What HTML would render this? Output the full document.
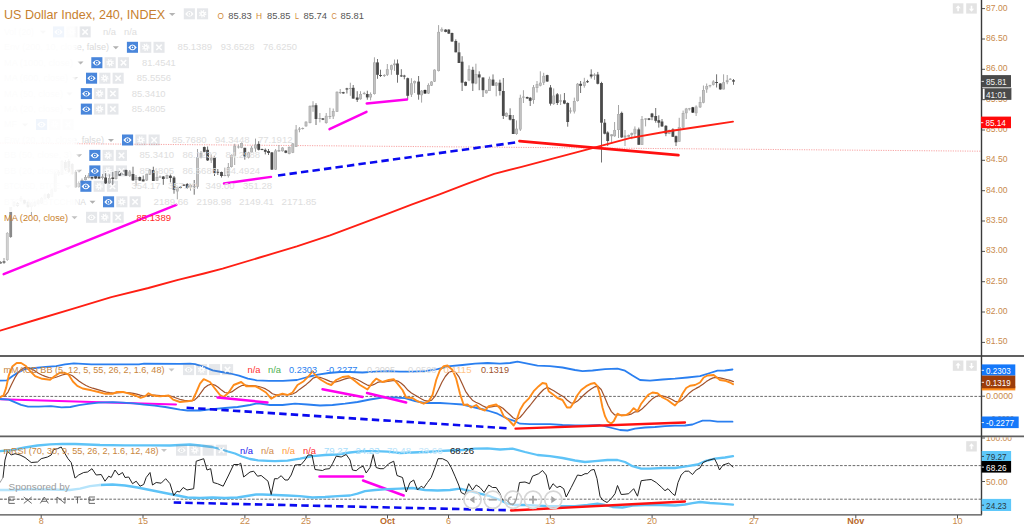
<!DOCTYPE html>
<html><head><meta charset="utf-8"><title>US Dollar Index</title>
<style>
html,body{margin:0;padding:0;background:#fff;}
body{width:1024px;height:530px;overflow:hidden;font-family:"Liberation Sans",sans-serif;}
svg{display:block;}
</style></head><body>
<svg width="1024" height="530" viewBox="0 0 1024 530" font-family='"Liberation Sans", sans-serif'>
<rect width="1024" height="530" fill="#fff"/>
<line x1="981.5" y1="8.6" x2="985.0" y2="8.6" stroke="#555" stroke-width="1" />
<text x="986.0" y="10.6" font-size="9" fill="#c98a4b" text-anchor="start" textLength="21.5" lengthAdjust="spacingAndGlyphs">87.00</text>
<line x1="981.5" y1="39.0" x2="985.0" y2="39.0" stroke="#555" stroke-width="1" />
<text x="986.0" y="41.0" font-size="9" fill="#c98a4b" text-anchor="start" textLength="21.5" lengthAdjust="spacingAndGlyphs">86.50</text>
<line x1="981.5" y1="69.3" x2="985.0" y2="69.3" stroke="#555" stroke-width="1" />
<text x="986.0" y="71.3" font-size="9" fill="#c98a4b" text-anchor="start" textLength="21.5" lengthAdjust="spacingAndGlyphs">86.00</text>
<line x1="981.5" y1="99.7" x2="985.0" y2="99.7" stroke="#555" stroke-width="1" />
<text x="986.0" y="101.7" font-size="9" fill="#c98a4b" text-anchor="start" textLength="21.5" lengthAdjust="spacingAndGlyphs">85.50</text>
<line x1="981.5" y1="130.0" x2="985.0" y2="130.0" stroke="#555" stroke-width="1" />
<text x="986.0" y="132.0" font-size="9" fill="#c98a4b" text-anchor="start" textLength="21.5" lengthAdjust="spacingAndGlyphs">85.00</text>
<line x1="981.5" y1="160.3" x2="985.0" y2="160.3" stroke="#555" stroke-width="1" />
<text x="986.0" y="162.3" font-size="9" fill="#c98a4b" text-anchor="start" textLength="21.5" lengthAdjust="spacingAndGlyphs">84.50</text>
<line x1="981.5" y1="190.7" x2="985.0" y2="190.7" stroke="#555" stroke-width="1" />
<text x="986.0" y="192.7" font-size="9" fill="#c98a4b" text-anchor="start" textLength="21.5" lengthAdjust="spacingAndGlyphs">84.00</text>
<line x1="981.5" y1="221.0" x2="985.0" y2="221.0" stroke="#555" stroke-width="1" />
<text x="986.0" y="223.0" font-size="9" fill="#c98a4b" text-anchor="start" textLength="21.5" lengthAdjust="spacingAndGlyphs">83.50</text>
<line x1="981.5" y1="251.4" x2="985.0" y2="251.4" stroke="#555" stroke-width="1" />
<text x="986.0" y="253.4" font-size="9" fill="#c98a4b" text-anchor="start" textLength="21.5" lengthAdjust="spacingAndGlyphs">83.00</text>
<line x1="981.5" y1="281.7" x2="985.0" y2="281.7" stroke="#555" stroke-width="1" />
<text x="986.0" y="283.7" font-size="9" fill="#c98a4b" text-anchor="start" textLength="21.5" lengthAdjust="spacingAndGlyphs">82.50</text>
<line x1="981.5" y1="312.0" x2="985.0" y2="312.0" stroke="#555" stroke-width="1" />
<text x="986.0" y="314.0" font-size="9" fill="#c98a4b" text-anchor="start" textLength="21.5" lengthAdjust="spacingAndGlyphs">82.00</text>
<line x1="981.5" y1="342.4" x2="985.0" y2="342.4" stroke="#555" stroke-width="1" />
<text x="986.0" y="344.4" font-size="9" fill="#c98a4b" text-anchor="start" textLength="21.5" lengthAdjust="spacingAndGlyphs">81.50</text>
<line x1="0.0" y1="143.1" x2="981.0" y2="151.2" stroke="#f59292" stroke-width="0.85" stroke-dasharray="1.2 1.2"/>
<g opacity="0.70"><rect x="0.13" y="261.00" width="0.95" height="3.00" fill="#6a6a6a"/>
<rect x="-0.80" y="262.00" width="2.8" height="1.50" fill="#4a4a4a"/>
</g>
<g opacity="0.70"><rect x="3.53" y="258.00" width="0.95" height="6.00" fill="#6a6a6a"/>
<rect x="2.60" y="261.00" width="2.8" height="2.00" fill="#4a4a4a"/>
</g>
<g opacity="0.75"><rect x="6.83" y="232.00" width="0.95" height="29.00" fill="#a0a0a0"/>
<rect x="5.90" y="233.00" width="2.8" height="27.00" fill="#a8a8a8"/>
<rect x="6.55" y="233.60" width="1.5" height="25.80" fill="#c2c2c2"/>
</g>
<g><rect x="10.23" y="207.00" width="0.95" height="31.00" fill="#999"/>
<rect x="9.30" y="207.00" width="2.8" height="30.00" fill="#8a8a8a"/>
<rect x="9.95" y="207.60" width="1.5" height="28.80" fill="#8a8a8a"/>
</g>
<g><rect x="13.53" y="201.00" width="0.95" height="6.00" fill="#a0a0a0"/>
<rect x="12.60" y="202.00" width="2.8" height="4.00" fill="#a8a8a8"/>
<rect x="13.25" y="202.60" width="1.5" height="2.80" fill="#c2c2c2"/>
</g>
<g><rect x="17.03" y="202.00" width="0.95" height="5.00" fill="#6a6a6a"/>
<rect x="16.10" y="203.00" width="2.8" height="3.00" fill="#4a4a4a"/>
</g>
<g><rect x="20.53" y="196.00" width="0.95" height="6.00" fill="#a0a0a0"/>
<rect x="19.60" y="198.00" width="2.8" height="3.00" fill="#a8a8a8"/>
<rect x="20.25" y="198.60" width="1.5" height="1.80" fill="#c2c2c2"/>
</g>
<g><rect x="24.03" y="199.00" width="0.95" height="5.00" fill="#6a6a6a"/>
<rect x="23.10" y="200.00" width="2.8" height="3.60" fill="#4a4a4a"/>
</g>
<g><rect x="27.53" y="201.00" width="0.95" height="7.00" fill="#6a6a6a"/>
<rect x="26.60" y="202.00" width="2.8" height="5.00" fill="#4a4a4a"/>
</g>
<g><rect x="30.93" y="202.00" width="0.95" height="13.00" fill="#a0a0a0"/>
<rect x="30.00" y="203.00" width="2.8" height="4.00" fill="#a8a8a8"/>
<rect x="30.65" y="203.60" width="1.5" height="2.80" fill="#c2c2c2"/>
</g>
<g><rect x="34.33" y="201.00" width="0.95" height="6.00" fill="#a0a0a0"/>
<rect x="33.40" y="202.00" width="2.8" height="4.00" fill="#a8a8a8"/>
<rect x="34.05" y="202.60" width="1.5" height="2.80" fill="#c2c2c2"/>
</g>
<g><rect x="37.73" y="199.00" width="0.95" height="6.00" fill="#a0a0a0"/>
<rect x="36.80" y="200.00" width="2.8" height="4.00" fill="#a8a8a8"/>
<rect x="37.45" y="200.60" width="1.5" height="2.80" fill="#c2c2c2"/>
</g>
<g><rect x="41.13" y="197.00" width="0.95" height="7.00" fill="#a0a0a0"/>
<rect x="40.20" y="198.00" width="2.8" height="5.60" fill="#a8a8a8"/>
<rect x="40.85" y="198.60" width="1.5" height="4.40" fill="#c2c2c2"/>
</g>
<g><rect x="44.53" y="193.50" width="0.95" height="5.50" fill="#a0a0a0"/>
<rect x="43.60" y="194.50" width="2.8" height="4.20" fill="#a8a8a8"/>
<rect x="44.25" y="195.10" width="1.5" height="3.00" fill="#c2c2c2"/>
</g>
<g><rect x="47.93" y="193.00" width="0.95" height="6.00" fill="#6a6a6a"/>
<rect x="47.00" y="194.00" width="2.8" height="4.00" fill="#4a4a4a"/>
</g>
<g><rect x="51.33" y="189.00" width="0.95" height="8.00" fill="#a0a0a0"/>
<rect x="50.40" y="189.50" width="2.8" height="7.10" fill="#a8a8a8"/>
<rect x="51.05" y="190.10" width="1.5" height="5.90" fill="#c2c2c2"/>
</g>
<g><rect x="54.73" y="172.00" width="0.95" height="20.00" fill="#a0a0a0"/>
<rect x="53.80" y="173.00" width="2.8" height="18.60" fill="#a8a8a8"/>
<rect x="54.45" y="173.60" width="1.5" height="17.40" fill="#c2c2c2"/>
</g>
<g><rect x="58.13" y="170.00" width="0.95" height="6.00" fill="#a0a0a0"/>
<rect x="57.20" y="171.80" width="2.8" height="2.80" fill="#a8a8a8"/>
<rect x="57.85" y="172.40" width="1.5" height="1.60" fill="#c2c2c2"/>
</g>
<g><rect x="61.53" y="160.00" width="0.95" height="15.00" fill="#a0a0a0"/>
<rect x="60.60" y="161.00" width="2.8" height="13.60" fill="#a8a8a8"/>
<rect x="61.25" y="161.60" width="1.5" height="12.40" fill="#c2c2c2"/>
</g>
<g><rect x="64.93" y="160.00" width="0.95" height="11.00" fill="#6a6a6a"/>
<rect x="64.00" y="162.00" width="2.8" height="7.70" fill="#4a4a4a"/>
</g>
<g><rect x="68.33" y="159.00" width="0.95" height="14.00" fill="#6a6a6a"/>
<rect x="67.40" y="161.00" width="2.8" height="10.80" fill="#4a4a4a"/>
</g>
<g><rect x="71.73" y="163.00" width="0.95" height="12.00" fill="#6a6a6a"/>
<rect x="70.80" y="164.00" width="2.8" height="10.00" fill="#4a4a4a"/>
</g>
<g><rect x="75.13" y="170.00" width="0.95" height="18.00" fill="#6a6a6a"/>
<rect x="74.20" y="171.80" width="2.8" height="15.60" fill="#4a4a4a"/>
</g>
<g><rect x="78.23" y="181.40" width="0.95" height="6.40" fill="#a0a0a0"/>
<rect x="77.30" y="183.00" width="2.8" height="4.00" fill="#a8a8a8"/>
<rect x="77.95" y="183.60" width="1.5" height="2.80" fill="#c2c2c2"/>
</g>
<g><rect x="81.53" y="178.50" width="0.95" height="4.90" fill="#a0a0a0"/>
<rect x="80.60" y="180.00" width="2.8" height="3.00" fill="#a8a8a8"/>
<rect x="81.25" y="180.60" width="1.5" height="1.80" fill="#c2c2c2"/>
</g>
<g><rect x="85.03" y="175.00" width="0.95" height="5.40" fill="#a0a0a0"/>
<rect x="84.10" y="177.00" width="2.8" height="3.00" fill="#a8a8a8"/>
<rect x="84.75" y="177.60" width="1.5" height="1.80" fill="#c2c2c2"/>
</g>
<g><rect x="88.33" y="173.00" width="0.95" height="5.50" fill="#a0a0a0"/>
<rect x="87.40" y="175.50" width="2.8" height="2.50" fill="#a8a8a8"/>
<rect x="88.05" y="176.10" width="1.5" height="1.30" fill="#c2c2c2"/>
</g>
<g><rect x="91.53" y="176.50" width="0.95" height="3.00" fill="#6a6a6a"/>
<rect x="90.60" y="177.00" width="2.8" height="1.50" fill="#4a4a4a"/>
</g>
<g><rect x="95.13" y="175.50" width="0.95" height="3.50" fill="#6a6a6a"/>
<rect x="94.20" y="176.00" width="2.8" height="2.50" fill="#4a4a4a"/>
</g>
<g><rect x="98.53" y="176.00" width="0.95" height="3.00" fill="#6a6a6a"/>
<rect x="97.60" y="176.50" width="2.8" height="2.00" fill="#4a4a4a"/>
</g>
<g><rect x="102.03" y="174.00" width="0.95" height="5.50" fill="#a0a0a0"/>
<rect x="101.10" y="176.50" width="2.8" height="1.50" fill="#a8a8a8"/>
</g>
<g><rect x="105.13" y="171.00" width="0.95" height="13.00" fill="#6a6a6a"/>
<rect x="104.20" y="177.50" width="2.8" height="5.90" fill="#4a4a4a"/>
</g>
<g><rect x="108.93" y="172.00" width="0.95" height="12.00" fill="#a0a0a0"/>
<rect x="108.00" y="178.00" width="2.8" height="5.40" fill="#a8a8a8"/>
<rect x="108.65" y="178.60" width="1.5" height="4.20" fill="#c2c2c2"/>
</g>
<g><rect x="112.33" y="172.00" width="0.95" height="14.80" fill="#6a6a6a"/>
<rect x="111.40" y="177.50" width="2.8" height="1.50" fill="#4a4a4a"/>
</g>
<g><rect x="115.53" y="171.00" width="0.95" height="8.50" fill="#a0a0a0"/>
<rect x="114.60" y="171.00" width="2.8" height="8.00" fill="#a8a8a8"/>
<rect x="115.25" y="171.60" width="1.5" height="6.80" fill="#c2c2c2"/>
</g>
<g><rect x="119.23" y="171.00" width="0.95" height="5.00" fill="#6a6a6a"/>
<rect x="118.30" y="171.60" width="2.8" height="4.10" fill="#4a4a4a"/>
</g>
<g><rect x="122.53" y="169.00" width="0.95" height="6.00" fill="#a0a0a0"/>
<rect x="121.60" y="169.60" width="2.8" height="4.90" fill="#a8a8a8"/>
<rect x="122.25" y="170.20" width="1.5" height="3.70" fill="#c2c2c2"/>
</g>
<g><rect x="125.53" y="169.50" width="0.95" height="6.50" fill="#6a6a6a"/>
<rect x="124.60" y="170.00" width="2.8" height="5.70" fill="#4a4a4a"/>
</g>
<g><rect x="129.33" y="170.00" width="0.95" height="7.00" fill="#a0a0a0"/>
<rect x="128.40" y="171.60" width="2.8" height="4.40" fill="#a8a8a8"/>
<rect x="129.05" y="172.20" width="1.5" height="3.20" fill="#c2c2c2"/>
</g>
<g><rect x="132.53" y="166.70" width="0.95" height="14.30" fill="#6a6a6a"/>
<rect x="131.60" y="174.00" width="2.8" height="6.40" fill="#4a4a4a"/>
</g>
<g><rect x="135.53" y="175.00" width="0.95" height="10.80" fill="#a0a0a0"/>
<rect x="134.60" y="177.00" width="2.8" height="3.00" fill="#a8a8a8"/>
<rect x="135.25" y="177.60" width="1.5" height="1.80" fill="#c2c2c2"/>
</g>
<g><rect x="139.33" y="176.50" width="0.95" height="4.50" fill="#6a6a6a"/>
<rect x="138.40" y="177.00" width="2.8" height="3.60" fill="#4a4a4a"/>
</g>
<g><rect x="142.73" y="175.50" width="0.95" height="5.90" fill="#6a6a6a"/>
<rect x="141.80" y="179.40" width="2.8" height="2.00" fill="#4a4a4a"/>
</g>
<g><rect x="146.23" y="173.50" width="0.95" height="7.50" fill="#a0a0a0"/>
<rect x="145.30" y="174.00" width="2.8" height="6.40" fill="#a8a8a8"/>
<rect x="145.95" y="174.60" width="1.5" height="5.20" fill="#c2c2c2"/>
</g>
<g><rect x="149.33" y="169.00" width="0.95" height="6.00" fill="#a0a0a0"/>
<rect x="148.40" y="169.60" width="2.8" height="4.90" fill="#a8a8a8"/>
<rect x="149.05" y="170.20" width="1.5" height="3.70" fill="#c2c2c2"/>
</g>
<g><rect x="152.83" y="166.70" width="0.95" height="14.30" fill="#6a6a6a"/>
<rect x="151.90" y="170.00" width="2.8" height="11.00" fill="#4a4a4a"/>
</g>
<g><rect x="156.53" y="171.00" width="0.95" height="10.00" fill="#a0a0a0"/>
<rect x="155.60" y="177.00" width="2.8" height="3.60" fill="#a8a8a8"/>
<rect x="156.25" y="177.60" width="1.5" height="2.40" fill="#c2c2c2"/>
</g>
<g><rect x="159.53" y="175.50" width="0.95" height="2.50" fill="#a0a0a0"/>
<rect x="158.60" y="176.50" width="2.8" height="1.00" fill="#a8a8a8"/>
</g>
<g><rect x="162.83" y="176.00" width="0.95" height="8.80" fill="#6a6a6a"/>
<rect x="161.90" y="176.50" width="2.8" height="2.50" fill="#4a4a4a"/>
</g>
<g><rect x="166.53" y="174.50" width="0.95" height="4.50" fill="#a0a0a0"/>
<rect x="165.60" y="175.00" width="2.8" height="3.50" fill="#a8a8a8"/>
<rect x="166.25" y="175.60" width="1.5" height="2.30" fill="#c2c2c2"/>
</g>
<g><rect x="169.93" y="174.50" width="0.95" height="7.90" fill="#6a6a6a"/>
<rect x="169.00" y="175.70" width="2.8" height="2.30" fill="#4a4a4a"/>
</g>
<g><rect x="173.53" y="176.00" width="0.95" height="17.70" fill="#6a6a6a"/>
<rect x="172.60" y="177.50" width="2.8" height="12.20" fill="#4a4a4a"/>
</g>
<g><rect x="176.83" y="186.80" width="0.95" height="12.50" fill="#a0a0a0"/>
<rect x="175.90" y="187.40" width="2.8" height="4.00" fill="#a8a8a8"/>
<rect x="176.55" y="188.00" width="1.5" height="2.80" fill="#c2c2c2"/>
</g>
<g><rect x="180.13" y="186.40" width="0.95" height="2.00" fill="#6a6a6a"/>
<rect x="179.20" y="186.80" width="2.8" height="1.20" fill="#4a4a4a"/>
</g>
<g><rect x="183.43" y="184.00" width="0.95" height="2.00" fill="#6a6a6a"/>
<rect x="182.50" y="184.70" width="2.8" height="1.00" fill="#4a4a4a"/>
</g>
<g><rect x="186.73" y="183.00" width="0.95" height="5.70" fill="#6a6a6a"/>
<rect x="185.80" y="184.00" width="2.8" height="4.00" fill="#4a4a4a"/>
</g>
<g><rect x="190.03" y="184.00" width="0.95" height="6.70" fill="#a0a0a0"/>
<rect x="189.10" y="184.80" width="2.8" height="2.60" fill="#a8a8a8"/>
<rect x="189.75" y="185.40" width="1.5" height="1.40" fill="#c2c2c2"/>
</g>
<g><rect x="193.73" y="180.00" width="0.95" height="14.70" fill="#6a6a6a"/>
<rect x="192.80" y="186.00" width="2.8" height="1.00" fill="#4a4a4a"/>
</g>
<g><rect x="197.03" y="149.00" width="0.95" height="39.70" fill="#a0a0a0"/>
<rect x="196.10" y="157.00" width="2.8" height="29.80" fill="#a8a8a8"/>
<rect x="196.75" y="157.60" width="1.5" height="28.60" fill="#c2c2c2"/>
</g>
<g><rect x="200.53" y="151.00" width="0.95" height="7.40" fill="#a0a0a0"/>
<rect x="199.60" y="153.00" width="2.8" height="4.70" fill="#a8a8a8"/>
<rect x="200.25" y="153.60" width="1.5" height="3.50" fill="#c2c2c2"/>
</g>
<g><rect x="203.83" y="146.50" width="0.95" height="5.70" fill="#6a6a6a"/>
<rect x="202.90" y="147.00" width="2.8" height="4.80" fill="#4a4a4a"/>
</g>
<g><rect x="207.13" y="146.50" width="0.95" height="14.50" fill="#6a6a6a"/>
<rect x="206.20" y="149.80" width="2.8" height="10.60" fill="#4a4a4a"/>
</g>
<g><rect x="210.73" y="154.40" width="0.95" height="8.60" fill="#a0a0a0"/>
<rect x="209.80" y="157.70" width="2.8" height="2.70" fill="#a8a8a8"/>
<rect x="210.45" y="158.30" width="1.5" height="1.50" fill="#c2c2c2"/>
</g>
<g><rect x="214.03" y="156.40" width="0.95" height="19.60" fill="#6a6a6a"/>
<rect x="213.10" y="157.00" width="2.8" height="16.00" fill="#4a4a4a"/>
</g>
<g><rect x="217.33" y="169.00" width="0.95" height="6.00" fill="#6a6a6a"/>
<rect x="216.40" y="171.80" width="2.8" height="1.00" fill="#4a4a4a"/>
</g>
<g><rect x="221.03" y="171.60" width="0.95" height="5.90" fill="#6a6a6a"/>
<rect x="220.10" y="172.00" width="2.8" height="4.00" fill="#4a4a4a"/>
</g>
<g><rect x="224.33" y="167.60" width="0.95" height="8.60" fill="#a0a0a0"/>
<rect x="223.40" y="175.00" width="2.8" height="1.00" fill="#a8a8a8"/>
</g>
<g><rect x="227.83" y="163.00" width="0.95" height="14.50" fill="#a0a0a0"/>
<rect x="226.90" y="167.00" width="2.8" height="9.00" fill="#a8a8a8"/>
<rect x="227.55" y="167.60" width="1.5" height="7.80" fill="#c2c2c2"/>
</g>
<g><rect x="230.93" y="154.40" width="0.95" height="13.20" fill="#a0a0a0"/>
<rect x="230.00" y="155.00" width="2.8" height="12.00" fill="#a8a8a8"/>
<rect x="230.65" y="155.60" width="1.5" height="10.80" fill="#c2c2c2"/>
</g>
<g><rect x="234.23" y="143.80" width="0.95" height="21.20" fill="#a0a0a0"/>
<rect x="233.30" y="145.80" width="2.8" height="9.90" fill="#a8a8a8"/>
<rect x="233.95" y="146.40" width="1.5" height="8.70" fill="#c2c2c2"/>
</g>
<g><rect x="237.93" y="144.50" width="0.95" height="4.00" fill="#a0a0a0"/>
<rect x="237.00" y="146.50" width="2.8" height="1.00" fill="#a8a8a8"/>
</g>
<g><rect x="241.03" y="142.50" width="0.95" height="5.70" fill="#a0a0a0"/>
<rect x="240.10" y="143.00" width="2.8" height="4.80" fill="#a8a8a8"/>
<rect x="240.75" y="143.60" width="1.5" height="3.60" fill="#c2c2c2"/>
</g>
<g><rect x="244.33" y="147.80" width="0.95" height="11.90" fill="#6a6a6a"/>
<rect x="243.40" y="147.80" width="2.8" height="8.60" fill="#4a4a4a"/>
</g>
<g><rect x="248.03" y="151.80" width="0.95" height="6.60" fill="#a0a0a0"/>
<rect x="247.10" y="152.40" width="2.8" height="5.30" fill="#a8a8a8"/>
<rect x="247.75" y="153.00" width="1.5" height="4.10" fill="#c2c2c2"/>
</g>
<g><rect x="251.13" y="145.80" width="0.95" height="7.20" fill="#a0a0a0"/>
<rect x="250.20" y="147.80" width="2.8" height="4.60" fill="#a8a8a8"/>
<rect x="250.85" y="148.40" width="1.5" height="3.40" fill="#c2c2c2"/>
</g>
<g><rect x="255.03" y="138.60" width="0.95" height="13.20" fill="#a0a0a0"/>
<rect x="254.10" y="144.50" width="2.8" height="4.00" fill="#a8a8a8"/>
<rect x="254.75" y="145.10" width="1.5" height="2.80" fill="#c2c2c2"/>
</g>
<g><rect x="258.23" y="141.20" width="0.95" height="9.30" fill="#6a6a6a"/>
<rect x="257.30" y="143.90" width="2.8" height="5.90" fill="#4a4a4a"/>
</g>
<g><rect x="261.53" y="148.60" width="0.95" height="1.60" fill="#6a6a6a"/>
<rect x="260.60" y="149.00" width="2.8" height="1.00" fill="#4a4a4a"/>
</g>
<g><rect x="264.83" y="148.50" width="0.95" height="5.90" fill="#6a6a6a"/>
<rect x="263.90" y="149.80" width="2.8" height="2.00" fill="#4a4a4a"/>
</g>
<g><rect x="268.03" y="149.00" width="0.95" height="6.00" fill="#6a6a6a"/>
<rect x="267.10" y="151.00" width="2.8" height="2.00" fill="#4a4a4a"/>
</g>
<g><rect x="271.43" y="152.00" width="0.95" height="18.00" fill="#6a6a6a"/>
<rect x="270.50" y="152.40" width="2.8" height="17.20" fill="#4a4a4a"/>
</g>
<g><rect x="275.13" y="149.00" width="0.95" height="20.90" fill="#a0a0a0"/>
<rect x="274.20" y="150.50" width="2.8" height="19.10" fill="#a8a8a8"/>
<rect x="274.85" y="151.10" width="1.5" height="17.90" fill="#c2c2c2"/>
</g>
<g><rect x="278.43" y="145.00" width="0.95" height="6.80" fill="#a0a0a0"/>
<rect x="277.50" y="150.00" width="2.8" height="1.50" fill="#a8a8a8"/>
</g>
<g><rect x="282.03" y="147.20" width="0.95" height="4.40" fill="#a0a0a0"/>
<rect x="281.10" y="147.60" width="2.8" height="3.60" fill="#a8a8a8"/>
<rect x="281.75" y="148.20" width="1.5" height="2.40" fill="#c2c2c2"/>
</g>
<g><rect x="285.33" y="150.20" width="0.95" height="3.00" fill="#6a6a6a"/>
<rect x="284.40" y="150.60" width="2.8" height="2.20" fill="#4a4a4a"/>
</g>
<g><rect x="288.73" y="146.50" width="0.95" height="7.80" fill="#a0a0a0"/>
<rect x="287.80" y="146.90" width="2.8" height="7.00" fill="#a8a8a8"/>
<rect x="288.45" y="147.50" width="1.5" height="5.80" fill="#c2c2c2"/>
</g>
<g><rect x="292.33" y="143.10" width="0.95" height="10.00" fill="#a0a0a0"/>
<rect x="291.40" y="143.50" width="2.8" height="9.20" fill="#a8a8a8"/>
<rect x="292.05" y="144.10" width="1.5" height="8.00" fill="#c2c2c2"/>
</g>
<g><rect x="295.63" y="125.00" width="0.95" height="21.80" fill="#a0a0a0"/>
<rect x="294.70" y="129.60" width="2.8" height="17.20" fill="#a8a8a8"/>
<rect x="295.35" y="130.20" width="1.5" height="16.00" fill="#c2c2c2"/>
</g>
<g><rect x="298.93" y="127.00" width="0.95" height="5.30" fill="#a0a0a0"/>
<rect x="298.00" y="128.60" width="2.8" height="1.00" fill="#a8a8a8"/>
</g>
<g><rect x="302.23" y="127.50" width="0.95" height="2.00" fill="#a0a0a0"/>
<rect x="301.30" y="128.00" width="2.8" height="1.00" fill="#a8a8a8"/>
</g>
<g><rect x="305.53" y="121.30" width="0.95" height="5.40" fill="#a0a0a0"/>
<rect x="304.60" y="121.70" width="2.8" height="4.60" fill="#a8a8a8"/>
<rect x="305.25" y="122.30" width="1.5" height="3.40" fill="#c2c2c2"/>
</g>
<g><rect x="309.53" y="105.50" width="0.95" height="17.90" fill="#a0a0a0"/>
<rect x="308.60" y="105.90" width="2.8" height="17.10" fill="#a8a8a8"/>
<rect x="309.25" y="106.50" width="1.5" height="15.90" fill="#c2c2c2"/>
</g>
<g><rect x="312.53" y="101.20" width="0.95" height="10.60" fill="#a0a0a0"/>
<rect x="311.60" y="105.20" width="2.8" height="2.00" fill="#a8a8a8"/>
</g>
<g><rect x="315.53" y="103.20" width="0.95" height="21.80" fill="#6a6a6a"/>
<rect x="314.60" y="105.20" width="2.8" height="13.80" fill="#4a4a4a"/>
</g>
<g><rect x="319.43" y="113.00" width="0.95" height="9.40" fill="#a0a0a0"/>
<rect x="318.50" y="118.00" width="2.8" height="1.00" fill="#a8a8a8"/>
</g>
<g><rect x="322.43" y="118.00" width="0.95" height="2.10" fill="#6a6a6a"/>
<rect x="321.50" y="118.40" width="2.8" height="1.30" fill="#4a4a4a"/>
</g>
<g><rect x="325.73" y="113.00" width="0.95" height="10.70" fill="#a0a0a0"/>
<rect x="324.80" y="115.80" width="2.8" height="7.20" fill="#a8a8a8"/>
<rect x="325.45" y="116.40" width="1.5" height="6.00" fill="#c2c2c2"/>
</g>
<g><rect x="329.43" y="107.80" width="0.95" height="11.20" fill="#a0a0a0"/>
<rect x="328.50" y="116.00" width="2.8" height="1.00" fill="#a8a8a8"/>
</g>
<g><rect x="332.73" y="108.50" width="0.95" height="10.50" fill="#a0a0a0"/>
<rect x="331.80" y="111.00" width="2.8" height="5.40" fill="#a8a8a8"/>
<rect x="332.45" y="111.60" width="1.5" height="4.20" fill="#c2c2c2"/>
</g>
<g><rect x="336.53" y="91.40" width="0.95" height="20.60" fill="#a0a0a0"/>
<rect x="335.60" y="91.80" width="2.8" height="19.90" fill="#a8a8a8"/>
<rect x="336.25" y="92.40" width="1.5" height="18.70" fill="#c2c2c2"/>
</g>
<g><rect x="339.73" y="89.00" width="0.95" height="5.00" fill="#a0a0a0"/>
<rect x="338.80" y="92.00" width="2.8" height="1.00" fill="#a8a8a8"/>
</g>
<g><rect x="342.83" y="91.80" width="0.95" height="2.00" fill="#6a6a6a"/>
<rect x="341.90" y="92.20" width="2.8" height="1.20" fill="#4a4a4a"/>
</g>
<g><rect x="346.43" y="87.80" width="0.95" height="5.70" fill="#6a6a6a"/>
<rect x="345.50" y="88.40" width="2.8" height="1.10" fill="#4a4a4a"/>
</g>
<g><rect x="349.83" y="82.70" width="0.95" height="13.10" fill="#a0a0a0"/>
<rect x="348.90" y="88.00" width="2.8" height="1.00" fill="#a8a8a8"/>
</g>
<g><rect x="352.73" y="85.00" width="0.95" height="13.60" fill="#6a6a6a"/>
<rect x="351.80" y="87.80" width="2.8" height="10.80" fill="#4a4a4a"/>
</g>
<g><rect x="356.73" y="91.20" width="0.95" height="10.80" fill="#6a6a6a"/>
<rect x="355.80" y="97.50" width="2.8" height="2.30" fill="#4a4a4a"/>
</g>
<g><rect x="360.03" y="91.20" width="0.95" height="8.50" fill="#a0a0a0"/>
<rect x="359.10" y="94.00" width="2.8" height="5.20" fill="#a8a8a8"/>
<rect x="359.75" y="94.60" width="1.5" height="4.00" fill="#c2c2c2"/>
</g>
<g><rect x="363.73" y="91.80" width="0.95" height="2.80" fill="#a0a0a0"/>
<rect x="362.80" y="93.00" width="2.8" height="1.00" fill="#a8a8a8"/>
</g>
<g><rect x="366.83" y="90.70" width="0.95" height="9.00" fill="#6a6a6a"/>
<rect x="365.90" y="94.00" width="2.8" height="3.40" fill="#4a4a4a"/>
</g>
<g><rect x="370.13" y="92.40" width="0.95" height="7.90" fill="#a0a0a0"/>
<rect x="369.20" y="94.00" width="2.8" height="3.40" fill="#a8a8a8"/>
<rect x="369.85" y="94.60" width="1.5" height="2.20" fill="#c2c2c2"/>
</g>
<g><rect x="373.93" y="57.30" width="0.95" height="37.30" fill="#a0a0a0"/>
<rect x="373.00" y="62.40" width="2.8" height="31.60" fill="#a8a8a8"/>
<rect x="373.65" y="63.00" width="1.5" height="30.40" fill="#c2c2c2"/>
</g>
<g><rect x="377.03" y="59.00" width="0.95" height="19.80" fill="#6a6a6a"/>
<rect x="376.10" y="62.40" width="2.8" height="12.40" fill="#4a4a4a"/>
</g>
<g><rect x="380.03" y="69.70" width="0.95" height="7.30" fill="#6a6a6a"/>
<rect x="379.10" y="75.00" width="2.8" height="1.00" fill="#4a4a4a"/>
</g>
<g><rect x="383.83" y="74.20" width="0.95" height="2.80" fill="#a0a0a0"/>
<rect x="382.90" y="75.00" width="2.8" height="1.00" fill="#a8a8a8"/>
</g>
<g><rect x="386.83" y="64.00" width="0.95" height="12.00" fill="#a0a0a0"/>
<rect x="385.90" y="69.20" width="2.8" height="5.60" fill="#a8a8a8"/>
<rect x="386.55" y="69.80" width="1.5" height="4.40" fill="#c2c2c2"/>
</g>
<g><rect x="390.93" y="64.60" width="0.95" height="10.20" fill="#a0a0a0"/>
<rect x="390.00" y="65.20" width="2.8" height="4.50" fill="#a8a8a8"/>
<rect x="390.65" y="65.80" width="1.5" height="3.30" fill="#c2c2c2"/>
</g>
<g><rect x="394.03" y="59.50" width="0.95" height="11.40" fill="#a0a0a0"/>
<rect x="393.10" y="63.50" width="2.8" height="1.70" fill="#a8a8a8"/>
</g>
<g><rect x="397.03" y="59.50" width="0.95" height="23.20" fill="#6a6a6a"/>
<rect x="396.10" y="63.50" width="2.8" height="11.30" fill="#4a4a4a"/>
</g>
<g><rect x="400.83" y="69.20" width="0.95" height="7.80" fill="#6a6a6a"/>
<rect x="399.90" y="75.40" width="2.8" height="1.00" fill="#4a4a4a"/>
</g>
<g><rect x="403.83" y="74.80" width="0.95" height="4.50" fill="#6a6a6a"/>
<rect x="402.90" y="75.60" width="2.8" height="1.00" fill="#4a4a4a"/>
</g>
<g><rect x="407.23" y="77.60" width="0.95" height="22.10" fill="#6a6a6a"/>
<rect x="406.30" y="78.20" width="2.8" height="17.60" fill="#4a4a4a"/>
</g>
<g><rect x="410.93" y="78.20" width="0.95" height="18.80" fill="#a0a0a0"/>
<rect x="410.00" y="83.30" width="2.8" height="11.30" fill="#a8a8a8"/>
<rect x="410.65" y="83.90" width="1.5" height="10.10" fill="#c2c2c2"/>
</g>
<g><rect x="414.13" y="80.50" width="0.95" height="12.50" fill="#a0a0a0"/>
<rect x="413.20" y="81.00" width="2.8" height="2.30" fill="#a8a8a8"/>
<rect x="413.85" y="81.60" width="1.5" height="1.10" fill="#c2c2c2"/>
</g>
<g><rect x="418.13" y="76.00" width="0.95" height="23.70" fill="#6a6a6a"/>
<rect x="417.20" y="81.60" width="2.8" height="13.00" fill="#4a4a4a"/>
</g>
<g><rect x="421.13" y="90.00" width="0.95" height="12.60" fill="#a0a0a0"/>
<rect x="420.20" y="90.70" width="2.8" height="4.50" fill="#a8a8a8"/>
<rect x="420.85" y="91.30" width="1.5" height="3.30" fill="#c2c2c2"/>
</g>
<g><rect x="424.53" y="89.60" width="0.95" height="4.30" fill="#444"/>
<rect x="423.60" y="90.00" width="2.8" height="3.50" fill="#2c2c2c"/>
</g>
<g><rect x="427.93" y="83.30" width="0.95" height="10.70" fill="#a0a0a0"/>
<rect x="427.00" y="85.00" width="2.8" height="8.50" fill="#a8a8a8"/>
<rect x="427.65" y="85.60" width="1.5" height="7.30" fill="#c2c2c2"/>
</g>
<g><rect x="431.03" y="81.20" width="0.95" height="4.80" fill="#a0a0a0"/>
<rect x="430.10" y="81.60" width="2.8" height="4.00" fill="#a8a8a8"/>
<rect x="430.75" y="82.20" width="1.5" height="2.80" fill="#c2c2c2"/>
</g>
<g><rect x="434.03" y="69.30" width="0.95" height="12.70" fill="#a0a0a0"/>
<rect x="433.10" y="69.70" width="2.8" height="11.90" fill="#a8a8a8"/>
<rect x="433.75" y="70.30" width="1.5" height="10.70" fill="#c2c2c2"/>
</g>
<g><rect x="438.13" y="25.10" width="0.95" height="46.40" fill="#a0a0a0"/>
<rect x="437.20" y="31.90" width="2.8" height="39.10" fill="#a8a8a8"/>
<rect x="437.85" y="32.50" width="1.5" height="37.90" fill="#c2c2c2"/>
</g>
<g><rect x="441.33" y="27.40" width="0.95" height="4.50" fill="#a0a0a0"/>
<rect x="440.40" y="29.00" width="2.8" height="2.30" fill="#a8a8a8"/>
<rect x="441.05" y="29.60" width="1.5" height="1.10" fill="#c2c2c2"/>
</g>
<g><rect x="445.13" y="29.20" width="0.95" height="3.10" fill="#6a6a6a"/>
<rect x="444.20" y="29.60" width="2.8" height="2.30" fill="#4a4a4a"/>
</g>
<g><rect x="448.33" y="29.20" width="0.95" height="4.80" fill="#6a6a6a"/>
<rect x="447.40" y="29.60" width="2.8" height="4.00" fill="#4a4a4a"/>
</g>
<g><rect x="451.53" y="32.60" width="0.95" height="9.30" fill="#6a6a6a"/>
<rect x="450.60" y="33.00" width="2.8" height="8.50" fill="#4a4a4a"/>
</g>
<g><rect x="455.33" y="39.30" width="0.95" height="13.00" fill="#6a6a6a"/>
<rect x="454.40" y="41.00" width="2.8" height="11.30" fill="#4a4a4a"/>
</g>
<g><rect x="458.53" y="42.70" width="0.95" height="20.30" fill="#6a6a6a"/>
<rect x="457.60" y="52.30" width="2.8" height="10.70" fill="#4a4a4a"/>
</g>
<g><rect x="461.63" y="56.20" width="0.95" height="34.80" fill="#6a6a6a"/>
<rect x="460.70" y="61.70" width="2.8" height="21.00" fill="#4a4a4a"/>
</g>
<g><rect x="465.13" y="81.50" width="0.95" height="4.60" fill="#6a6a6a"/>
<rect x="464.20" y="81.90" width="2.8" height="3.80" fill="#4a4a4a"/>
</g>
<g><rect x="468.53" y="65.30" width="0.95" height="15.90" fill="#a0a0a0"/>
<rect x="467.60" y="69.20" width="2.8" height="11.20" fill="#a8a8a8"/>
<rect x="468.25" y="69.80" width="1.5" height="10.00" fill="#c2c2c2"/>
</g>
<g><rect x="472.33" y="66.80" width="0.95" height="24.20" fill="#6a6a6a"/>
<rect x="471.40" y="69.80" width="2.8" height="13.60" fill="#4a4a4a"/>
</g>
<g><rect x="475.43" y="63.70" width="0.95" height="20.50" fill="#a0a0a0"/>
<rect x="474.50" y="74.00" width="2.8" height="9.40" fill="#a8a8a8"/>
<rect x="475.15" y="74.60" width="1.5" height="8.20" fill="#c2c2c2"/>
</g>
<g><rect x="478.73" y="71.30" width="0.95" height="18.90" fill="#6a6a6a"/>
<rect x="477.80" y="74.40" width="2.8" height="3.10" fill="#4a4a4a"/>
</g>
<g><rect x="482.53" y="77.40" width="0.95" height="19.60" fill="#6a6a6a"/>
<rect x="481.60" y="77.50" width="2.8" height="12.70" fill="#4a4a4a"/>
</g>
<g><rect x="485.83" y="89.80" width="0.95" height="3.80" fill="#a0a0a0"/>
<rect x="484.90" y="90.20" width="2.8" height="3.00" fill="#a8a8a8"/>
<rect x="485.55" y="90.80" width="1.5" height="1.80" fill="#c2c2c2"/>
</g>
<g><rect x="488.93" y="76.60" width="0.95" height="14.40" fill="#a0a0a0"/>
<rect x="488.00" y="78.90" width="2.8" height="12.10" fill="#a8a8a8"/>
<rect x="488.65" y="79.50" width="1.5" height="10.90" fill="#c2c2c2"/>
</g>
<g><rect x="492.53" y="74.40" width="0.95" height="11.30" fill="#6a6a6a"/>
<rect x="491.60" y="79.60" width="2.8" height="6.10" fill="#4a4a4a"/>
</g>
<g><rect x="495.73" y="82.00" width="0.95" height="14.30" fill="#a0a0a0"/>
<rect x="494.80" y="82.70" width="2.8" height="3.00" fill="#a8a8a8"/>
<rect x="495.45" y="83.30" width="1.5" height="1.80" fill="#c2c2c2"/>
</g>
<g><rect x="499.43" y="79.60" width="0.95" height="15.90" fill="#6a6a6a"/>
<rect x="498.50" y="82.70" width="2.8" height="8.30" fill="#4a4a4a"/>
</g>
<g><rect x="502.83" y="78.00" width="0.95" height="41.00" fill="#6a6a6a"/>
<rect x="501.90" y="91.00" width="2.8" height="24.90" fill="#4a4a4a"/>
</g>
<g><rect x="505.93" y="112.50" width="0.95" height="4.50" fill="#a0a0a0"/>
<rect x="505.00" y="112.90" width="2.8" height="3.70" fill="#a8a8a8"/>
<rect x="505.65" y="113.50" width="1.5" height="2.50" fill="#c2c2c2"/>
</g>
<g><rect x="509.63" y="108.30" width="0.95" height="12.10" fill="#6a6a6a"/>
<rect x="508.70" y="115.00" width="2.8" height="4.70" fill="#4a4a4a"/>
</g>
<g><rect x="512.73" y="115.00" width="0.95" height="19.00" fill="#6a6a6a"/>
<rect x="511.80" y="119.00" width="2.8" height="15.00" fill="#4a4a4a"/>
</g>
<g><rect x="516.03" y="120.40" width="0.95" height="14.40" fill="#a0a0a0"/>
<rect x="515.10" y="128.70" width="2.8" height="5.30" fill="#a8a8a8"/>
<rect x="515.75" y="129.30" width="1.5" height="4.10" fill="#c2c2c2"/>
</g>
<g><rect x="519.83" y="94.70" width="0.95" height="36.30" fill="#a0a0a0"/>
<rect x="518.90" y="97.80" width="2.8" height="31.70" fill="#a8a8a8"/>
<rect x="519.55" y="98.40" width="1.5" height="30.50" fill="#c2c2c2"/>
</g>
<g><rect x="522.93" y="90.20" width="0.95" height="12.80" fill="#a0a0a0"/>
<rect x="522.00" y="96.60" width="2.8" height="1.00" fill="#a8a8a8"/>
</g>
<g><rect x="526.73" y="96.60" width="0.95" height="2.30" fill="#6a6a6a"/>
<rect x="525.80" y="97.00" width="2.8" height="1.50" fill="#4a4a4a"/>
</g>
<g><rect x="529.73" y="97.00" width="0.95" height="9.00" fill="#6a6a6a"/>
<rect x="528.80" y="97.80" width="2.8" height="3.00" fill="#4a4a4a"/>
</g>
<g><rect x="533.03" y="85.00" width="0.95" height="18.80" fill="#a0a0a0"/>
<rect x="532.10" y="87.20" width="2.8" height="12.80" fill="#a8a8a8"/>
<rect x="532.75" y="87.80" width="1.5" height="11.60" fill="#c2c2c2"/>
</g>
<g><rect x="536.53" y="81.00" width="0.95" height="11.50" fill="#a0a0a0"/>
<rect x="535.60" y="84.20" width="2.8" height="3.80" fill="#a8a8a8"/>
<rect x="536.25" y="84.80" width="1.5" height="2.60" fill="#c2c2c2"/>
</g>
<g><rect x="539.83" y="71.30" width="0.95" height="15.10" fill="#a0a0a0"/>
<rect x="538.90" y="82.70" width="2.8" height="3.00" fill="#a8a8a8"/>
<rect x="539.55" y="83.30" width="1.5" height="1.80" fill="#c2c2c2"/>
</g>
<g><rect x="543.23" y="72.80" width="0.95" height="12.20" fill="#a0a0a0"/>
<rect x="542.30" y="75.90" width="2.8" height="6.80" fill="#a8a8a8"/>
<rect x="542.95" y="76.50" width="1.5" height="5.60" fill="#c2c2c2"/>
</g>
<g><rect x="546.73" y="74.70" width="0.95" height="7.20" fill="#6a6a6a"/>
<rect x="545.80" y="75.10" width="2.8" height="6.40" fill="#4a4a4a"/>
</g>
<g><rect x="550.03" y="85.00" width="0.95" height="20.60" fill="#6a6a6a"/>
<rect x="549.10" y="87.50" width="2.8" height="16.20" fill="#4a4a4a"/>
</g>
<g><rect x="553.23" y="88.40" width="0.95" height="16.50" fill="#a0a0a0"/>
<rect x="552.30" y="95.60" width="2.8" height="8.40" fill="#a8a8a8"/>
<rect x="552.95" y="96.20" width="1.5" height="7.20" fill="#c2c2c2"/>
</g>
<g><rect x="556.83" y="93.00" width="0.95" height="12.00" fill="#6a6a6a"/>
<rect x="555.90" y="94.30" width="2.8" height="8.70" fill="#4a4a4a"/>
</g>
<g><rect x="560.13" y="94.30" width="0.95" height="10.70" fill="#a0a0a0"/>
<rect x="559.20" y="100.30" width="2.8" height="1.30" fill="#a8a8a8"/>
</g>
<g><rect x="563.93" y="93.00" width="0.95" height="11.20" fill="#6a6a6a"/>
<rect x="563.00" y="100.30" width="2.8" height="3.30" fill="#4a4a4a"/>
</g>
<g><rect x="567.23" y="102.30" width="0.95" height="24.40" fill="#6a6a6a"/>
<rect x="566.30" y="103.00" width="2.8" height="19.00" fill="#4a4a4a"/>
</g>
<g><rect x="570.03" y="107.50" width="0.95" height="6.00" fill="#a0a0a0"/>
<rect x="569.10" y="110.50" width="2.8" height="1.00" fill="#a8a8a8"/>
</g>
<g><rect x="573.83" y="97.60" width="0.95" height="15.90" fill="#a0a0a0"/>
<rect x="572.90" y="101.00" width="2.8" height="10.50" fill="#a8a8a8"/>
<rect x="573.55" y="101.60" width="1.5" height="9.30" fill="#c2c2c2"/>
</g>
<g><rect x="577.13" y="83.00" width="0.95" height="18.60" fill="#a0a0a0"/>
<rect x="576.20" y="83.80" width="2.8" height="17.20" fill="#a8a8a8"/>
<rect x="576.85" y="84.40" width="1.5" height="16.00" fill="#c2c2c2"/>
</g>
<g><rect x="580.13" y="81.00" width="0.95" height="12.00" fill="#6a6a6a"/>
<rect x="579.20" y="83.80" width="2.8" height="2.00" fill="#4a4a4a"/>
</g>
<g><rect x="583.83" y="77.80" width="0.95" height="9.90" fill="#a0a0a0"/>
<rect x="582.90" y="81.80" width="2.8" height="4.00" fill="#a8a8a8"/>
<rect x="583.55" y="82.40" width="1.5" height="2.80" fill="#c2c2c2"/>
</g>
<g><rect x="587.03" y="79.80" width="0.95" height="3.20" fill="#6a6a6a"/>
<rect x="586.10" y="81.20" width="2.8" height="1.00" fill="#4a4a4a"/>
</g>
<g><rect x="590.73" y="69.30" width="0.95" height="9.20" fill="#6a6a6a"/>
<rect x="589.80" y="74.50" width="2.8" height="2.00" fill="#4a4a4a"/>
</g>
<g><rect x="594.03" y="73.20" width="0.95" height="6.60" fill="#a0a0a0"/>
<rect x="593.10" y="74.50" width="2.8" height="1.40" fill="#a8a8a8"/>
</g>
<g><rect x="597.33" y="71.90" width="0.95" height="12.50" fill="#6a6a6a"/>
<rect x="596.40" y="74.50" width="2.8" height="9.30" fill="#4a4a4a"/>
</g>
<g><rect x="601.03" y="81.80" width="0.95" height="80.70" fill="#6a6a6a"/>
<rect x="600.10" y="83.00" width="2.8" height="39.70" fill="#4a4a4a"/>
</g>
<g><rect x="604.23" y="119.00" width="0.95" height="15.30" fill="#6a6a6a"/>
<rect x="603.30" y="122.70" width="2.8" height="11.00" fill="#4a4a4a"/>
</g>
<g><rect x="607.23" y="131.30" width="0.95" height="14.70" fill="#6a6a6a"/>
<rect x="606.30" y="132.50" width="2.8" height="8.50" fill="#4a4a4a"/>
</g>
<g><rect x="611.13" y="134.30" width="0.95" height="9.70" fill="#a0a0a0"/>
<rect x="610.20" y="134.30" width="2.8" height="1.90" fill="#a8a8a8"/>
</g>
<g><rect x="614.13" y="122.00" width="0.95" height="14.80" fill="#a0a0a0"/>
<rect x="613.20" y="130.00" width="2.8" height="6.20" fill="#a8a8a8"/>
<rect x="613.85" y="130.60" width="1.5" height="5.00" fill="#c2c2c2"/>
</g>
<g><rect x="618.03" y="105.00" width="0.95" height="33.00" fill="#a0a0a0"/>
<rect x="617.10" y="114.00" width="2.8" height="16.00" fill="#a8a8a8"/>
<rect x="617.75" y="114.60" width="1.5" height="14.80" fill="#c2c2c2"/>
</g>
<g><rect x="621.23" y="111.60" width="0.95" height="26.40" fill="#6a6a6a"/>
<rect x="620.30" y="112.90" width="2.8" height="24.50" fill="#4a4a4a"/>
</g>
<g><rect x="624.53" y="130.00" width="0.95" height="16.00" fill="#a0a0a0"/>
<rect x="623.60" y="135.50" width="2.8" height="1.90" fill="#a8a8a8"/>
</g>
<g><rect x="628.23" y="134.60" width="0.95" height="2.60" fill="#a0a0a0"/>
<rect x="627.30" y="135.00" width="2.8" height="1.80" fill="#a8a8a8"/>
</g>
<g><rect x="631.33" y="132.50" width="0.95" height="6.70" fill="#a0a0a0"/>
<rect x="630.40" y="133.00" width="2.8" height="2.00" fill="#a8a8a8"/>
</g>
<g><rect x="634.43" y="126.40" width="0.95" height="10.40" fill="#a0a0a0"/>
<rect x="633.50" y="128.80" width="2.8" height="4.90" fill="#a8a8a8"/>
<rect x="634.15" y="129.40" width="1.5" height="3.70" fill="#c2c2c2"/>
</g>
<g><rect x="638.33" y="127.60" width="0.95" height="17.20" fill="#6a6a6a"/>
<rect x="637.40" y="129.40" width="2.8" height="15.40" fill="#4a4a4a"/>
</g>
<g><rect x="641.53" y="116.00" width="0.95" height="28.80" fill="#a0a0a0"/>
<rect x="640.60" y="119.00" width="2.8" height="25.80" fill="#a8a8a8"/>
<rect x="641.25" y="119.60" width="1.5" height="24.60" fill="#c2c2c2"/>
</g>
<g><rect x="645.13" y="118.40" width="0.95" height="8.00" fill="#a0a0a0"/>
<rect x="644.20" y="118.40" width="2.8" height="1.20" fill="#a8a8a8"/>
</g>
<g><rect x="648.53" y="118.00" width="0.95" height="2.20" fill="#6a6a6a"/>
<rect x="647.60" y="118.40" width="2.8" height="1.40" fill="#4a4a4a"/>
</g>
<g><rect x="651.53" y="112.90" width="0.95" height="7.30" fill="#6a6a6a"/>
<rect x="650.60" y="113.50" width="2.8" height="3.70" fill="#4a4a4a"/>
</g>
<g><rect x="655.23" y="108.00" width="0.95" height="14.70" fill="#6a6a6a"/>
<rect x="654.30" y="116.00" width="2.8" height="4.80" fill="#4a4a4a"/>
</g>
<g><rect x="658.33" y="115.30" width="0.95" height="12.30" fill="#6a6a6a"/>
<rect x="657.40" y="120.20" width="2.8" height="2.50" fill="#4a4a4a"/>
</g>
<g><rect x="661.53" y="119.00" width="0.95" height="8.00" fill="#6a6a6a"/>
<rect x="660.60" y="121.50" width="2.8" height="4.90" fill="#4a4a4a"/>
</g>
<g><rect x="665.43" y="125.10" width="0.95" height="11.10" fill="#6a6a6a"/>
<rect x="664.50" y="125.80" width="2.8" height="7.90" fill="#4a4a4a"/>
</g>
<g><rect x="668.73" y="129.60" width="0.95" height="4.50" fill="#a0a0a0"/>
<rect x="667.80" y="130.00" width="2.8" height="3.70" fill="#a8a8a8"/>
<rect x="668.45" y="130.60" width="1.5" height="2.50" fill="#c2c2c2"/>
</g>
<g><rect x="672.43" y="128.20" width="0.95" height="8.60" fill="#6a6a6a"/>
<rect x="671.50" y="129.40" width="2.8" height="7.40" fill="#4a4a4a"/>
</g>
<g><rect x="675.53" y="135.50" width="0.95" height="10.50" fill="#6a6a6a"/>
<rect x="674.60" y="136.20" width="2.8" height="6.10" fill="#4a4a4a"/>
</g>
<g><rect x="678.73" y="117.80" width="0.95" height="23.90" fill="#a0a0a0"/>
<rect x="677.80" y="127.00" width="2.8" height="14.70" fill="#a8a8a8"/>
<rect x="678.45" y="127.60" width="1.5" height="13.50" fill="#c2c2c2"/>
</g>
<g><rect x="682.63" y="110.60" width="0.95" height="17.40" fill="#a0a0a0"/>
<rect x="681.70" y="113.00" width="2.8" height="14.70" fill="#a8a8a8"/>
<rect x="682.35" y="113.60" width="1.5" height="13.50" fill="#c2c2c2"/>
</g>
<g><rect x="685.73" y="107.90" width="0.95" height="11.10" fill="#a0a0a0"/>
<rect x="684.80" y="108.60" width="2.8" height="4.60" fill="#a8a8a8"/>
<rect x="685.45" y="109.20" width="1.5" height="3.40" fill="#c2c2c2"/>
</g>
<g><rect x="688.83" y="107.90" width="0.95" height="2.70" fill="#a0a0a0"/>
<rect x="687.90" y="108.30" width="2.8" height="1.00" fill="#a8a8a8"/>
</g>
<g><rect x="692.33" y="106.90" width="0.95" height="6.10" fill="#444"/>
<rect x="691.40" y="107.30" width="2.8" height="5.30" fill="#2c2c2c"/>
</g>
<g><rect x="695.63" y="105.30" width="0.95" height="10.70" fill="#a0a0a0"/>
<rect x="694.70" y="106.60" width="2.8" height="6.60" fill="#a8a8a8"/>
<rect x="695.35" y="107.20" width="1.5" height="5.40" fill="#c2c2c2"/>
</g>
<g><rect x="699.63" y="96.70" width="0.95" height="11.30" fill="#a0a0a0"/>
<rect x="698.70" y="102.00" width="2.8" height="5.30" fill="#a8a8a8"/>
<rect x="699.35" y="102.60" width="1.5" height="4.10" fill="#c2c2c2"/>
</g>
<g><rect x="702.93" y="85.50" width="0.95" height="17.80" fill="#a0a0a0"/>
<rect x="702.00" y="90.00" width="2.8" height="12.70" fill="#a8a8a8"/>
<rect x="702.65" y="90.60" width="1.5" height="11.50" fill="#c2c2c2"/>
</g>
<g><rect x="706.23" y="83.50" width="0.95" height="9.30" fill="#a0a0a0"/>
<rect x="705.30" y="86.00" width="2.8" height="3.40" fill="#a8a8a8"/>
<rect x="705.95" y="86.60" width="1.5" height="2.20" fill="#c2c2c2"/>
</g>
<g><rect x="709.53" y="84.80" width="0.95" height="2.70" fill="#a0a0a0"/>
<rect x="708.60" y="85.20" width="2.8" height="1.00" fill="#a8a8a8"/>
</g>
<g><rect x="712.83" y="80.20" width="0.95" height="5.30" fill="#a0a0a0"/>
<rect x="711.90" y="81.50" width="2.8" height="3.30" fill="#a8a8a8"/>
<rect x="712.55" y="82.10" width="1.5" height="2.10" fill="#c2c2c2"/>
</g>
<g><rect x="716.13" y="74.30" width="0.95" height="13.20" fill="#6a6a6a"/>
<rect x="715.20" y="82.00" width="2.8" height="1.00" fill="#4a4a4a"/>
</g>
<g><rect x="719.83" y="83.10" width="0.95" height="6.70" fill="#6a6a6a"/>
<rect x="718.90" y="83.50" width="2.8" height="5.90" fill="#4a4a4a"/>
</g>
<g><rect x="723.13" y="74.30" width="0.95" height="15.10" fill="#a0a0a0"/>
<rect x="722.20" y="82.20" width="2.8" height="7.20" fill="#a8a8a8"/>
<rect x="722.85" y="82.80" width="1.5" height="6.00" fill="#c2c2c2"/>
</g>
<g><rect x="726.73" y="75.00" width="0.95" height="9.20" fill="#a0a0a0"/>
<rect x="725.80" y="80.20" width="2.8" height="2.00" fill="#a8a8a8"/>
</g>
<g><rect x="729.73" y="78.00" width="0.95" height="2.00" fill="#a0a0a0"/>
<rect x="728.80" y="78.80" width="2.8" height="1.00" fill="#a8a8a8"/>
</g>
<g><rect x="733.03" y="79.00" width="0.95" height="5.80" fill="#6a6a6a"/>
<rect x="732.10" y="80.20" width="2.8" height="1.40" fill="#4a4a4a"/>
</g>
<path d="M0.0 330.6 L37.0 319.5 L74.2 308.3 L111.3 297.2 L148.4 288.0 L178.0 279.8 L204.0 273.5 L222.6 268.6 L259.7 257.5 L296.8 246.4 L330.0 235.4 L357.4 225.2 L384.7 214.8 L412.1 204.4 L439.5 194.3 L466.8 183.9 L494.2 173.8 L521.6 166.9 L548.9 159.6 L576.3 152.4 L603.7 145.1 L629.7 138.2 L666.9 131.5 L704.0 126.0 L733.0 121.6" fill="none" stroke="#ff1f14" stroke-width="1.85" stroke-linejoin="round" stroke-linecap="round" />
<line x1="3.7" y1="274.2" x2="176.3" y2="204.8" stroke="#ff00ee" stroke-width="2.45" stroke-linecap="round"/>
<line x1="224.0" y1="183.5" x2="271.0" y2="176.9" stroke="#ff00ee" stroke-width="2.45" stroke-linecap="round"/>
<line x1="329.5" y1="129.2" x2="366.5" y2="111.8" stroke="#ff00ee" stroke-width="2.45" stroke-linecap="round"/>
<line x1="366.7" y1="103.5" x2="406.9" y2="99.5" stroke="#ff00ee" stroke-width="2.45" stroke-linecap="round"/>
<line x1="278.0" y1="175.5" x2="519.0" y2="142.0" stroke="#0a0af0" stroke-width="2.6" stroke-dasharray="7.4 4.2"/>
<line x1="519.5" y1="141.2" x2="678.4" y2="155.2" stroke="#ff1010" stroke-width="2.8" stroke-linecap="round"/>
<line x1="0.0" y1="396.4" x2="981.0" y2="396.4" stroke="#505050" stroke-width="0.85" stroke-dasharray="2.7 1.5"/>
<line x1="0.0" y1="399.2" x2="176.0" y2="404.5" stroke="#ff00ee" stroke-width="2.0" stroke-linecap="round"/>
<path d="M0.0 380.6 L7.0 380.3 L12.3 376.2 L17.6 372.7 L24.6 369.2 L35.1 368.0 L45.7 366.9 L56.2 366.2 L65.0 364.4 L73.8 363.4 L82.6 363.9 L91.4 364.4 L123.0 364.4 L138.8 364.4 L144.1 363.6 L180.0 363.9 L190.0 363.6 L195.0 364.1 L204.0 366.8 L212.7 370.3 L221.5 372.0 L230.3 373.5 L239.0 375.6 L247.9 378.7 L256.7 380.3 L269.0 380.8 L283.0 380.8 L297.0 380.0 L309.4 376.5 L318.0 374.7 L328.7 373.0 L340.0 372.0 L350.0 372.0 L362.5 372.5 L375.0 371.7 L387.5 371.2 L400.0 371.7 L412.5 371.7 L425.0 371.2 L437.5 369.2 L450.0 366.2 L462.5 365.0 L475.0 363.7 L487.5 363.0 L500.0 363.7 L510.0 363.0 L517.5 361.7 L525.0 363.2 L537.5 365.7 L550.0 366.2 L562.5 367.5 L575.0 370.0 L582.5 371.2 L592.5 370.5 L605.0 369.2 L617.5 368.7 L625.0 370.7 L632.5 375.5 L640.0 380.0 L650.0 380.7 L662.5 379.5 L675.0 378.7 L687.5 377.5 L700.0 376.2 L710.0 373.0 L717.5 370.7 L725.0 370.5 L732.5 369.5" fill="none" stroke="#2a7ff0" stroke-width="1.8" stroke-linejoin="round" stroke-linecap="round" />
<path d="M0.0 399.0 L8.8 399.6 L15.8 402.6 L21.1 404.9 L28.1 406.6 L38.7 406.6 L51.0 406.1 L61.5 407.3 L70.3 407.0 L79.1 405.2 L87.9 403.8 L98.4 402.6 L112.5 402.2 L123.0 402.6 L133.6 403.4 L144.1 404.7 L154.7 405.7 L165.2 407.0 L180.0 409.6 L187.5 410.5 L200.0 410.5 L212.5 409.2 L225.0 408.0 L237.5 407.0 L250.0 405.0 L256.0 403.7 L260.0 403.7 L270.0 405.0 L282.5 405.0 L295.0 403.7 L307.5 404.5 L320.0 405.5 L332.5 405.0 L345.0 403.7 L357.5 402.0 L370.0 399.5 L382.5 397.5 L395.0 397.5 L405.0 398.2 L415.0 401.2 L425.0 403.0 L440.0 403.0 L450.0 403.7 L462.5 404.5 L475.0 407.5 L487.5 410.5 L497.5 413.7 L503.0 416.5 L507.5 418.7 L515.0 421.2 L520.0 423.7 L530.0 424.2 L550.0 424.2 L562.5 425.0 L575.0 425.5 L587.5 425.5 L600.0 425.0 L610.0 427.5 L620.0 430.0 L627.5 430.5 L635.0 428.7 L645.0 427.5 L655.0 427.0 L665.0 426.2 L675.0 425.7 L685.0 425.5 L692.5 424.5 L697.5 422.5 L702.5 420.7 L710.0 420.7 L717.5 421.7 L732.5 421.7" fill="none" stroke="#2a7ff0" stroke-width="1.8" stroke-linejoin="round" stroke-linecap="round" />
<path d="M1.2 396.3 L4.6 396.1 L8.0 392.1 L11.4 384.8 L14.8 377.9 L18.1 372.6 L21.5 369.2 L24.9 367.5 L28.3 367.6 L31.7 369.0 L35.1 371.1 L38.5 373.2 L41.9 375.0 L45.3 376.4 L48.7 377.5 L52.1 378.1 L55.4 377.5 L58.8 376.3 L62.2 375.0 L65.6 374.2 L69.0 374.2 L72.4 375.8 L75.8 378.5 L79.2 381.2 L82.6 383.6 L86.0 385.5 L89.3 387.0 L92.7 388.2 L96.1 389.2 L99.5 390.2 L102.9 391.2 L106.3 392.1 L109.7 392.7 L113.1 393.1 L116.5 392.9 L119.9 392.6 L123.2 392.4 L126.6 392.5 L130.0 392.8 L133.4 393.4 L136.8 394.2 L140.2 395.2 L143.6 396.0 L147.0 395.9 L150.4 395.1 L153.7 395.2 L157.1 395.4 L160.5 395.7 L163.9 395.9 L167.3 395.8 L170.7 396.0 L174.1 397.2 L177.5 398.5 L180.9 399.7 L184.3 400.4 L187.6 400.7 L191.0 400.8 L194.4 400.1 L197.8 397.0 L201.2 392.3 L204.6 387.7 L208.0 385.2 L211.4 384.1 L214.8 385.1 L218.2 387.3 L221.5 390.1 L224.9 392.5 L228.3 393.0 L231.7 391.9 L235.1 389.4 L238.5 387.3 L241.9 385.5 L245.3 385.1 L248.7 385.5 L252.1 385.7 L255.4 385.9 L258.8 386.5 L262.2 387.5 L265.6 388.9 L269.0 391.0 L272.4 393.7 L275.8 394.8 L279.2 394.9 L282.6 394.6 L286.0 394.5 L289.3 394.6 L292.7 394.0 L296.1 392.2 L299.5 389.4 L302.9 386.9 L306.3 384.4 L309.7 381.5 L313.1 378.1 L316.5 377.0 L319.9 377.4 L323.2 378.5 L326.6 379.9 L330.0 381.4 L333.4 382.3 L336.8 381.7 L340.2 380.6 L343.6 379.4 L347.0 378.4 L350.4 377.7 L353.8 378.2 L357.1 379.5 L360.5 381.3 L363.9 383.2 L367.3 385.1 L370.7 385.7 L374.1 384.4 L377.5 382.4 L380.9 381.7 L384.3 381.8 L387.7 381.4 L391.0 380.8 L394.4 380.3 L397.8 381.1 L401.2 383.2 L404.6 386.3 L408.0 390.3 L411.4 393.0 L414.8 395.0 L418.2 397.1 L421.6 399.0 L424.9 400.7 L428.3 401.1 L431.7 400.1 L435.1 396.2 L438.5 389.4 L441.9 382.2 L445.3 376.5 L448.7 372.5 L452.1 371.1 L455.5 372.2 L458.8 376.6 L462.2 383.8 L465.6 391.3 L469.0 396.1 L472.4 400.2 L475.8 402.2 L479.2 403.8 L482.6 405.7 L486.0 407.4 L489.4 407.2 L492.7 406.6 L496.1 406.0 L499.5 406.2 L502.9 408.2 L506.3 411.5 L509.7 414.5 L513.1 417.7 L516.5 419.5 L519.9 417.5 L523.3 413.6 L526.6 409.4 L530.0 405.5 L533.4 401.2 L536.8 396.9 L540.2 393.0 L543.6 389.5 L547.0 387.4 L550.4 388.9 L553.8 390.8 L557.2 392.9 L560.5 395.0 L563.9 396.9 L567.3 400.2 L570.7 402.8 L574.1 403.1 L577.5 401.1 L580.9 397.8 L584.3 394.5 L587.7 391.5 L591.1 389.0 L594.4 386.9 L597.8 386.3 L601.2 389.5 L604.6 397.1 L608.0 405.2 L611.4 411.6 L614.8 415.0 L618.2 414.9 L621.6 415.0 L625.0 415.1 L628.3 414.8 L631.7 413.8 L635.1 411.8 L638.5 411.6 L641.9 409.1 L645.3 405.8 L648.7 402.3 L652.1 399.1 L655.5 396.8 L658.9 395.6 L662.2 395.8 L665.6 396.8 L669.0 398.0 L672.4 399.7 L675.8 401.7 L679.2 401.8 L682.6 399.7 L686.0 396.3 L689.4 392.9 L692.8 390.3 L696.1 388.4 L699.5 386.6 L702.9 384.3 L706.3 381.6 L709.7 379.4 L713.1 377.9 L716.5 377.3 L719.9 377.9 L723.3 378.7 L726.7 379.5 L730.0 380.4 L733.4 381.6" fill="none" stroke="#a0522d" stroke-width="1.2" stroke-linejoin="round" stroke-linecap="round" />
<path d="M0.0 397.3 L3.5 395.5 L6.2 387.6 L8.8 375.3 L12.3 366.5 L16.7 363.0 L21.1 363.0 L25.5 365.7 L29.9 370.9 L35.1 376.2 L42.2 378.8 L50.1 379.7 L54.5 376.2 L59.8 372.7 L64.1 372.7 L68.5 374.5 L72.9 381.5 L77.3 385.9 L82.6 388.5 L91.4 390.3 L98.4 392.0 L105.4 393.8 L112.5 393.8 L116.9 392.0 L123.0 392.0 L128.3 393.3 L135.3 395.5 L140.6 397.8 L145.0 396.4 L148.5 393.3 L152.9 395.5 L159.9 396.4 L168.7 395.5 L173.1 399.6 L180.0 402.0 L187.5 401.2 L192.5 400.5 L196.2 392.5 L200.0 383.7 L203.7 379.2 L210.0 382.0 L215.0 388.7 L220.0 395.0 L223.7 397.0 L228.7 392.5 L233.7 385.0 L241.2 382.0 L246.2 386.2 L252.5 386.2 L255.0 386.2 L260.0 388.7 L266.0 392.5 L271.2 398.7 L276.2 395.7 L282.5 393.7 L287.5 395.0 L292.5 392.5 L297.5 385.0 L303.7 381.2 L308.7 376.2 L312.5 371.2 L316.2 376.2 L321.2 380.0 L327.5 383.7 L331.2 385.0 L336.2 380.0 L342.5 377.0 L348.7 376.2 L353.7 380.0 L360.0 385.0 L367.5 389.5 L372.5 382.5 L376.2 378.7 L382.5 382.0 L388.7 380.0 L393.7 379.2 L397.5 383.7 L402.5 390.0 L406.2 397.5 L412.5 398.0 L417.5 401.2 L423.7 403.7 L428.7 401.2 L432.5 395.0 L436.2 380.0 L440.0 370.0 L443.7 366.2 L447.5 365.5 L452.5 370.0 L456.2 378.7 L460.0 393.7 L463.7 405.0 L467.5 404.5 L471.2 407.5 L476.2 405.0 L480.0 408.7 L485.0 410.5 L488.7 406.2 L496.2 404.5 L500.0 408.2 L503.7 416.2 L508.7 420.0 L513.7 425.5 L516.2 421.2 L520.0 410.0 L523.7 403.7 L528.7 398.7 L533.7 391.2 L538.7 386.2 L542.5 383.0 L546.2 383.7 L548.7 391.2 L553.7 395.0 L557.5 398.0 L562.5 400.0 L567.0 407.5 L570.5 407.5 L573.7 402.5 L577.5 395.0 L581.2 390.0 L586.2 386.2 L591.2 383.7 L594.5 383.0 L597.5 386.2 L600.0 395.0 L602.5 407.5 L605.0 416.2 L607.5 421.2 L611.2 423.7 L613.7 421.2 L617.5 413.7 L621.2 415.5 L626.2 415.0 L630.0 412.5 L633.7 408.2 L637.5 411.2 L641.2 403.7 L645.0 398.7 L648.7 394.5 L652.5 392.5 L657.5 393.2 L662.5 397.5 L667.5 400.0 L672.5 403.7 L675.0 405.5 L678.7 401.2 L682.5 393.7 L686.2 388.0 L690.0 385.7 L695.0 385.0 L700.0 382.5 L703.7 377.5 L707.5 375.5 L713.7 375.0 L716.2 377.0 L720.0 380.0 L725.0 380.7 L730.0 382.5 L733.0 384.2" fill="none" stroke="#ff8c1a" stroke-width="1.9" stroke-linejoin="round" stroke-linecap="round" />
<line x1="217.5" y1="397.5" x2="267.5" y2="402.5" stroke="#ff00ee" stroke-width="2.45" stroke-linecap="round"/>
<line x1="322.5" y1="389.2" x2="362.5" y2="397.0" stroke="#ff00ee" stroke-width="2.45" stroke-linecap="round"/>
<line x1="367.0" y1="393.0" x2="406.2" y2="402.5" stroke="#ff00ee" stroke-width="2.45" stroke-linecap="round"/>
<line x1="186.6" y1="407.7" x2="508.6" y2="428.4" stroke="#0a0af0" stroke-width="2.6" stroke-dasharray="7.4 4.2"/>
<line x1="515.5" y1="428.7" x2="685.0" y2="422.5" stroke="#ff1010" stroke-width="2.3" stroke-linecap="round"/>
<line x1="0.0" y1="465.6" x2="981.0" y2="465.6" stroke="#505050" stroke-width="0.85" stroke-dasharray="2.7 1.5"/>
<line x1="0.0" y1="499.2" x2="981.0" y2="499.2" stroke="#505050" stroke-width="0.85" stroke-dasharray="2.7 1.5"/>
<line x1="319.5" y1="476.5" x2="363.0" y2="476.5" stroke="#ff00ee" stroke-width="2.45" stroke-linecap="round"/>
<line x1="363.0" y1="480.5" x2="403.7" y2="495.5" stroke="#ff00ee" stroke-width="2.45" stroke-linecap="round"/>
<path d="M0.0 451.2 L12.5 450.0 L25.0 447.5 L37.5 445.5 L50.0 444.4 L62.5 443.8 L75.0 444.0 L87.5 444.5 L100.0 445.0 L125.0 445.3 L150.0 445.3 L170.0 445.5 L190.0 444.5 L200.0 445.5 L212.0 447.0 L220.0 449.0 L228.0 451.5 L235.0 453.5 L242.0 456.5 L250.0 459.0 L258.0 460.3 L268.0 460.8 L275.0 461.2 L287.5 460.7 L300.0 458.7 L312.5 456.2 L325.0 455.0 L337.5 454.5 L350.0 452.5 L362.5 451.2 L375.0 451.2 L387.5 451.7 L400.0 453.0 L412.5 452.5 L425.0 452.0 L437.5 451.2 L450.0 450.5 L462.5 450.0 L475.0 448.7 L487.5 448.3 L500.0 449.5 L512.5 448.7 L525.0 452.0 L537.5 455.0 L550.0 456.2 L562.5 458.0 L575.0 460.5 L585.0 462.0 L595.0 461.2 L607.5 460.0 L617.5 460.0 L625.0 462.0 L632.5 466.2 L641.2 468.7 L650.0 468.7 L662.5 468.0 L675.0 468.0 L687.5 466.2 L697.5 464.5 L705.0 461.2 L715.0 458.7 L725.0 457.5 L733.0 456.2" fill="none" stroke="#5ec3f7" stroke-width="2.3" stroke-linejoin="round" stroke-linecap="round" />
<path d="M100.0 485.0 L112.5 484.5 L125.0 485.5 L137.5 487.5 L150.0 490.0 L162.5 492.5 L175.0 495.0 L187.5 497.5 L200.0 498.0 L212.5 497.5 L225.0 498.0 L237.5 497.5 L250.0 495.5 L256.0 494.5 L262.5 494.5 L275.0 495.0 L287.5 495.5 L300.0 496.2 L312.5 497.5 L325.0 497.0 L337.5 496.2 L350.0 495.5 L357.5 493.7 L365.0 491.2 L375.0 490.0 L387.5 489.2 L400.0 488.7 L412.5 488.0 L425.0 490.0 L437.5 490.5 L450.0 490.0 L460.0 488.7 L470.0 491.2 L480.0 493.7 L490.0 496.2 L500.0 500.0 L507.5 503.7 L515.0 505.0 L525.0 505.0 L537.5 505.7 L550.0 506.2 L562.5 506.2 L575.0 506.2 L587.5 505.0 L597.5 503.7 L605.0 505.0 L612.5 507.0 L622.5 507.5 L632.5 505.7 L645.0 505.0 L660.0 505.0 L675.0 505.5 L685.0 504.5 L692.5 503.2 L700.0 502.0 L710.0 503.0 L720.0 503.7 L733.0 504.7" fill="none" stroke="#5ec3f7" stroke-width="2.3" stroke-linejoin="round" stroke-linecap="round" />
<path d="M0.0 490.0 L12.5 490.0 L25.0 489.5 L50.0 489.5 L70.0 490.0 L80.0 488.7 L90.0 486.2 L100.0 485.0" fill="none" stroke="#5ec3f7" stroke-width="2.3" stroke-linejoin="round" stroke-linecap="round" />
<path d="M0.0 482.5 L3.0 477.5 L5.0 460.0 L7.5 451.2 L11.2 455.0 L15.0 453.7 L20.0 455.0 L25.0 457.5 L31.2 462.5 L37.5 462.0 L41.2 458.7 L47.5 457.0 L51.2 455.0 L53.7 449.5 L57.5 448.7 L61.2 447.0 L65.0 453.7 L68.0 458.7 L71.2 462.5 L75.0 478.2 L78.7 475.0 L83.7 472.5 L87.5 472.0 L92.0 468.7 L96.2 475.0 L101.2 474.5 L105.0 481.2 L108.7 476.2 L111.2 477.5 L115.0 470.0 L118.7 475.0 L122.5 472.5 L125.0 477.5 L128.7 477.0 L132.5 483.7 L136.2 481.2 L140.0 486.2 L143.7 484.5 L146.2 477.5 L150.0 472.5 L152.5 485.0 L156.2 482.5 L161.2 483.2 L165.7 478.7 L170.0 483.7 L173.7 495.5 L177.0 491.2 L179.5 492.0 L183.2 487.5 L187.0 490.0 L193.7 488.7 L196.2 461.2 L203.7 458.7 L207.0 470.0 L210.7 468.7 L213.2 482.5 L217.5 483.7 L223.2 486.2 L228.7 475.0 L233.7 464.5 L238.7 464.5 L240.7 463.2 L243.7 477.0 L250.0 472.0 L253.7 471.2 L257.5 476.2 L261.2 475.5 L265.0 478.7 L268.0 481.2 L271.2 494.5 L274.5 478.7 L277.5 478.7 L281.2 475.7 L285.0 480.0 L288.0 480.0 L291.2 475.0 L295.0 465.0 L301.2 464.5 L305.0 460.0 L308.0 455.0 L312.0 455.0 L315.0 469.5 L322.5 470.5 L325.0 469.2 L329.5 468.7 L332.5 463.7 L336.2 456.2 L341.2 457.0 L346.2 454.5 L350.0 460.0 L352.5 470.0 L356.2 470.7 L360.0 467.5 L363.2 466.2 L366.2 473.0 L370.0 467.5 L373.2 454.5 L376.2 467.5 L380.0 468.7 L383.7 468.7 L388.7 463.7 L393.7 461.2 L397.0 475.5 L402.5 477.5 L406.2 492.0 L410.0 482.5 L413.7 480.0 L417.5 490.0 L421.2 486.2 L423.7 488.0 L427.5 482.5 L431.2 477.5 L435.0 467.5 L438.0 458.7 L442.5 458.7 L447.5 461.2 L451.2 467.5 L455.0 476.2 L458.7 485.0 L461.2 492.5 L465.0 494.5 L468.7 483.7 L472.5 490.0 L476.2 485.0 L480.0 487.5 L484.2 492.5 L488.7 485.0 L492.5 487.5 L496.2 487.5 L500.0 493.7 L502.5 500.0 L506.2 500.0 L510.0 503.7 L513.0 505.0 L516.2 500.0 L519.5 482.5 L525.0 482.0 L529.5 483.7 L532.5 476.2 L538.7 473.7 L542.5 470.5 L546.2 475.0 L549.5 489.5 L553.0 483.7 L557.0 487.5 L560.0 486.2 L563.7 488.7 L566.2 497.0 L571.2 487.5 L577.5 475.0 L581.2 475.7 L585.0 473.7 L587.5 473.7 L591.2 470.0 L594.2 469.5 L597.0 478.7 L600.0 496.2 L602.5 500.0 L607.0 502.5 L611.2 498.7 L615.0 493.7 L617.5 485.5 L621.2 494.5 L625.0 494.2 L628.7 493.7 L633.7 488.7 L637.5 496.2 L641.2 480.7 L646.2 480.0 L651.2 479.5 L656.2 482.5 L661.2 487.0 L665.0 490.7 L668.0 488.7 L672.5 493.7 L675.0 495.5 L678.0 482.5 L681.2 475.0 L685.0 471.2 L688.7 471.2 L692.5 474.5 L696.2 470.0 L700.0 468.0 L703.0 462.5 L707.5 460.5 L714.5 458.7 L717.0 463.7 L719.5 470.0 L723.0 465.0 L728.7 463.2 L733.0 467.0" fill="none" stroke="#222" stroke-width="1.0" stroke-linejoin="round" stroke-linecap="round" />
<line x1="173.7" y1="502.5" x2="508.8" y2="510.2" stroke="#0a0af0" stroke-width="2.6" stroke-dasharray="7.4 4.2"/>
<line x1="511.0" y1="510.5" x2="685.0" y2="501.5" stroke="#ff1010" stroke-width="2.3" stroke-linecap="round"/>
<rect x="0" y="478" width="101" height="34" fill="#fff" opacity="0.55"/>
<line x1="0.0" y1="499.2" x2="101.4" y2="499.2" stroke="#505050" stroke-width="0.85" stroke-dasharray="2.7 1.5"/>
<text x="8.6" y="489.7" font-size="9.5" fill="#9c9c9c" text-anchor="start" textLength="61.2" lengthAdjust="spacingAndGlyphs">Sponsored by</text>
<path d="M14.8 497 H8.8 V503.4 H14.8 M8.8 500.2 H14 M23.8 497 L31.7 503.4 M31.7 497 L23.8 503.4 M40.3 503.4 L44.3 497 L48.3 503.4 M41.8 501.3 H46.8 M57 503.4 V497 L65 503.4 V497 M74 497 H81 M77.5 497 V503.4 M95 497 H89 V503.4 H95 M89 500.2 H94.2" fill="none" stroke="#5a5a5a" stroke-width="0.9"/>
<circle cx="472.5" cy="499.7" r="8.6" fill="#fff" fill-opacity="0.5" stroke="#d6d6d6" stroke-width="1.7"/>
<path d="M469.5 499.7 l5 -3.6 v7.2 z" fill="#a4a4a4"/>
<circle cx="492.8" cy="499.7" r="8.6" fill="#fff" fill-opacity="0.5" stroke="#d6d6d6" stroke-width="1.7"/>
<rect x="488.8" y="498.8" width="8" height="1.8" fill="#a4a4a4"/>
<circle cx="513.1" cy="499.7" r="8.6" fill="#fff" fill-opacity="0.5" stroke="#d6d6d6" stroke-width="1.7"/>
<path d="M511.6 497 a3.6 3.6 0 1 0 3.2 1.6" fill="none" stroke="#a4a4a4" stroke-width="1.5"/>
<circle cx="533.0" cy="499.7" r="8.6" fill="#fff" fill-opacity="0.5" stroke="#d6d6d6" stroke-width="1.7"/>
<path d="M529.0 499.7 h8 M533.0 495.7 v8" stroke="#a4a4a4" stroke-width="1.8"/>
<circle cx="553.3" cy="499.7" r="8.6" fill="#fff" fill-opacity="0.5" stroke="#d6d6d6" stroke-width="1.7"/>
<path d="M556.3 499.7 l-5 -3.6 v7.2 z" fill="#a4a4a4"/>
<line x1="0.0" y1="356.0" x2="1024.0" y2="356.0" stroke="#606060" stroke-width="1.8" />
<line x1="0.0" y1="436.4" x2="1024.0" y2="436.4" stroke="#606060" stroke-width="1.8" />
<line x1="981.5" y1="0.0" x2="981.5" y2="514.8" stroke="#3a3a3a" stroke-width="1.4" />
<line x1="0.0" y1="514.8" x2="982.0" y2="514.8" stroke="#4d4d4d" stroke-width="1.3" />
<line x1="41.2" y1="515.0" x2="41.2" y2="518.5" stroke="#555" stroke-width="1" />
<text x="41.2" y="523.9" font-size="9" fill="#c98a4b" text-anchor="middle" font-weight="normal">8</text>
<line x1="143.0" y1="515.0" x2="143.0" y2="518.5" stroke="#555" stroke-width="1" />
<text x="143.0" y="523.9" font-size="9" fill="#c98a4b" text-anchor="middle" font-weight="normal">15</text>
<line x1="244.9" y1="515.0" x2="244.9" y2="518.5" stroke="#555" stroke-width="1" />
<text x="244.9" y="523.9" font-size="9" fill="#c98a4b" text-anchor="middle" font-weight="normal">22</text>
<line x1="306.0" y1="515.0" x2="306.0" y2="518.5" stroke="#555" stroke-width="1" />
<text x="306.0" y="523.9" font-size="9" fill="#c98a4b" text-anchor="middle" font-weight="normal">25</text>
<line x1="387.5" y1="515.0" x2="387.5" y2="518.5" stroke="#555" stroke-width="1" />
<text x="387.5" y="523.9" font-size="9" fill="#b9692a" text-anchor="middle" font-weight="bold">Oct</text>
<line x1="448.5" y1="515.0" x2="448.5" y2="518.5" stroke="#555" stroke-width="1" />
<text x="448.5" y="523.9" font-size="9" fill="#c98a4b" text-anchor="middle" font-weight="normal">6</text>
<line x1="550.3" y1="515.0" x2="550.3" y2="518.5" stroke="#555" stroke-width="1" />
<text x="550.3" y="523.9" font-size="9" fill="#c98a4b" text-anchor="middle" font-weight="normal">13</text>
<line x1="652.1" y1="515.0" x2="652.1" y2="518.5" stroke="#555" stroke-width="1" />
<text x="652.1" y="523.9" font-size="9" fill="#c98a4b" text-anchor="middle" font-weight="normal">20</text>
<line x1="753.9" y1="515.0" x2="753.9" y2="518.5" stroke="#555" stroke-width="1" />
<text x="753.9" y="523.9" font-size="9" fill="#c98a4b" text-anchor="middle" font-weight="normal">27</text>
<line x1="855.8" y1="515.0" x2="855.8" y2="518.5" stroke="#555" stroke-width="1" />
<text x="855.8" y="523.9" font-size="9" fill="#b9692a" text-anchor="middle" font-weight="bold">Nov</text>
<line x1="957.5" y1="515.0" x2="957.5" y2="518.5" stroke="#555" stroke-width="1" />
<text x="957.5" y="523.9" font-size="9" fill="#c98a4b" text-anchor="middle" font-weight="normal">10</text>
<line x1="981.5" y1="396.2" x2="985.0" y2="396.2" stroke="#555" stroke-width="1" />
<text x="986.0" y="398.8" font-size="9" fill="#c98a4b" text-anchor="start" textLength="27" lengthAdjust="spacingAndGlyphs">0.0000</text>
<text x="989.0" y="421.6" font-size="9" fill="#c98a4b" text-anchor="start" textLength="25" lengthAdjust="spacingAndGlyphs">-0.2000</text>
<clipPath id="c1"><rect x="982" y="437.3" width="42" height="20"/></clipPath>
<line x1="981.5" y1="438.0" x2="985.0" y2="438.0" stroke="#555" stroke-width="1" />
<g clip-path="url(#c1)">
<text x="986.0" y="440.5" font-size="9" fill="#c98a4b" text-anchor="start" textLength="26" lengthAdjust="spacingAndGlyphs">100.00</text>
</g>
<line x1="981.5" y1="481.5" x2="985.0" y2="481.5" stroke="#555" stroke-width="1" />
<text x="986.0" y="484.6" font-size="9" fill="#c98a4b" text-anchor="start" textLength="21.5" lengthAdjust="spacingAndGlyphs">50.00</text>
<rect x="981.6" y="75.1" width="29.4" height="12.1" fill="#4a4a4a"/>
<line x1="981.6" y1="81.4" x2="983.9" y2="81.4" stroke="#f2f2f2" stroke-width="0.9" />
<text x="986.0" y="84.8" font-size="9" fill="#f2f2f2" text-anchor="start" textLength="20.5" lengthAdjust="spacingAndGlyphs">85.81</text>
<rect x="982.4" y="88.2" width="28.6" height="11.2" fill="#fff" stroke="#4a4a4a" stroke-width="0.8"/>
<rect x="984.6" y="88.6" width="26.4" height="10.8" fill="#4a4a4a"/>
<text x="986.0" y="97.6" font-size="9" fill="#f2f2f2" text-anchor="start" textLength="20.5" lengthAdjust="spacingAndGlyphs">41:01</text>
<rect x="981.0" y="116.6" width="30.0" height="11.6" fill="#ff0a0a"/>
<line x1="981.0" y1="122.7" x2="983.3" y2="122.7" stroke="#fff" stroke-width="0.9" />
<text x="985.4" y="126.1" font-size="9" fill="#fff" text-anchor="start" textLength="20.5" lengthAdjust="spacingAndGlyphs">85.14</text>
<rect x="981.7" y="386" width="33.6" height="4.4" fill="#ff8c1a"/>
<rect x="981.7" y="364.4" width="33.6" height="11.2" fill="#1478fa"/>
<line x1="981.7" y1="370.3" x2="984.0" y2="370.3" stroke="#fff" stroke-width="0.9" />
<text x="986.1" y="373.7" font-size="9" fill="#fff" text-anchor="start" textLength="24.5" lengthAdjust="spacingAndGlyphs">0.2303</text>
<rect x="981.7" y="375.6" width="33.6" height="12.7" fill="#9c3d0a"/>
<line x1="981.7" y1="382.3" x2="984.0" y2="382.3" stroke="#fff" stroke-width="0.9" />
<text x="986.1" y="385.7" font-size="9" fill="#fff" text-anchor="start" textLength="24.5" lengthAdjust="spacingAndGlyphs">0.1319</text>
<rect x="981.7" y="416.5" width="37.0" height="11.6" fill="#1478fa"/>
<line x1="981.7" y1="422.6" x2="984.0" y2="422.6" stroke="#fff" stroke-width="0.9" />
<text x="986.1" y="426.0" font-size="9" fill="#fff" text-anchor="start" textLength="28" lengthAdjust="spacingAndGlyphs">-0.2277</text>
<rect x="981.7" y="451.0" width="29.4" height="10.2" fill="#5ec8fa"/>
<line x1="981.7" y1="456.4" x2="984.0" y2="456.4" stroke="#2a3a44" stroke-width="0.9" />
<text x="986.1" y="459.8" font-size="9" fill="#2a3a44" text-anchor="start" textLength="20.5" lengthAdjust="spacingAndGlyphs">79.27</text>
<rect x="981.7" y="461.0" width="29.4" height="11.6" fill="#000"/>
<line x1="981.7" y1="467.1" x2="984.0" y2="467.1" stroke="#fff" stroke-width="0.9" />
<text x="986.1" y="470.5" font-size="9" fill="#fff" text-anchor="start" textLength="20.5" lengthAdjust="spacingAndGlyphs">68.26</text>
<rect x="981.7" y="498.9" width="29.4" height="12.1" fill="#5ec8fa"/>
<line x1="981.7" y1="505.2" x2="984.0" y2="505.2" stroke="#2a3a44" stroke-width="0.9" />
<text x="986.1" y="508.6" font-size="9" fill="#2a3a44" text-anchor="start" textLength="20.5" lengthAdjust="spacingAndGlyphs">24.23</text>
<rect x="952.8" y="3.3" width="10.6" height="10.3" fill="#e3e3e3"/>
<path d="M958.1 5.3 l2.6 3 h-1.8 v3 h-1.6 v-3 h-1.8 z" fill="#fff"/>
<rect x="966.2" y="3.3" width="10.6" height="10.3" fill="#e3e3e3"/>
<path d="M971.5 11.7 l2.6 -3 h-1.8 v-3 h-1.6 v3 h-1.8 z" fill="#fff"/>
<rect x="952.8" y="360.5" width="10.6" height="10.3" fill="#e3e3e3"/>
<path d="M958.1 362.5 l2.6 3 h-1.8 v3 h-1.6 v-3 h-1.8 z" fill="#fff"/>
<rect x="966.2" y="360.5" width="10.6" height="10.3" fill="#e3e3e3"/>
<path d="M971.5 368.9 l2.6 -3 h-1.8 v-3 h-1.6 v3 h-1.8 z" fill="#fff"/>
<rect x="966.2" y="441.2" width="10.6" height="10.3" fill="#e3e3e3"/>
<path d="M971.5 443.2 l2.6 3 h-1.8 v3 h-1.6 v-3 h-1.8 z" fill="#fff"/>
<text x="4.0" y="18.5" font-size="13.3" fill="#c77f2e" text-anchor="start" textLength="161.2" lengthAdjust="spacingAndGlyphs">US Dollar Index, 240, INDEX</text>
<path d="M169 12.9 h6.4 l-3.2 3.2z" fill="#b4b4b4"/>
<rect x="183.8" y="8.3" width="11.1" height="11" fill="#7f8894" fill-opacity="0.20"/>
<path d="M185.2 13.9 q4.2 -5.6 8.4 0 q-4.2 5.6 -8.4 0z" fill="#fff" fill-opacity="0.95"/>
<circle cx="189.4" cy="13.9" r="1.95" fill="#e2e4e6"/>
<circle cx="189.4" cy="13.9" r="0.8" fill="#fff"/>
<rect x="197.0" y="8.3" width="11.1" height="11" fill="#7f8894" fill-opacity="0.20"/>
<circle cx="202.6" cy="13.8" r="2.5" fill="#fff" fill-opacity="0.95"/>
<circle cx="202.6" cy="13.8" r="3.1" fill="none" stroke="#fff" stroke-opacity="0.95" stroke-width="1.4" stroke-dasharray="1.22 1.215"/>
<circle cx="202.6" cy="13.8" r="0.9" fill="#e2e4e6"/>
<text x="217.6" y="18.9" font-size="9.8" fill="#d18a3a" text-anchor="start" textLength="6.4" lengthAdjust="spacingAndGlyphs">O</text>
<text x="228.3" y="18.9" font-size="9.8" fill="#555" text-anchor="start" textLength="23.4" lengthAdjust="spacingAndGlyphs">85.83</text>
<text x="256.0" y="18.9" font-size="9.8" fill="#d18a3a" text-anchor="start" textLength="6" lengthAdjust="spacingAndGlyphs">H</text>
<text x="267.0" y="18.9" font-size="9.8" fill="#555" text-anchor="start" textLength="23.4" lengthAdjust="spacingAndGlyphs">85.85</text>
<text x="295.0" y="18.9" font-size="9.8" fill="#d18a3a" text-anchor="start" textLength="4" lengthAdjust="spacingAndGlyphs">L</text>
<text x="303.5" y="18.9" font-size="9.8" fill="#555" text-anchor="start" textLength="23.4" lengthAdjust="spacingAndGlyphs">85.74</text>
<text x="331.4" y="18.9" font-size="9.8" fill="#d18a3a" text-anchor="start" textLength="5.4" lengthAdjust="spacingAndGlyphs">C</text>
<text x="340.5" y="18.9" font-size="9.8" fill="#555" text-anchor="start" textLength="23.4" lengthAdjust="spacingAndGlyphs">85.81</text>
<text x="4.0" y="34.8" font-size="9.6" fill="#dadada" text-anchor="start" textLength="30.0" lengthAdjust="spacingAndGlyphs">Vol (20)</text>
<path d="M40.0 30.8 h6 l-3 3z" fill="#b0b0b0"/>
<rect x="53.0" y="26.4" width="11.1" height="11" fill="#3b7dd8" fill-opacity="0.93"/>
<path d="M54.3 32.0 q4.2 -5.6 8.4 0 q-4.2 5.6 -8.4 0z" fill="#fff"/>
<circle cx="58.5" cy="32.0" r="1.95" fill="#3b7dd8"/>
<circle cx="58.5" cy="32.0" r="0.8" fill="#fff"/>
<rect x="66.3" y="26.4" width="11.1" height="11" fill="#7f8894" fill-opacity="0.20"/>
<circle cx="71.8" cy="31.9" r="2.5" fill="#fff" fill-opacity="0.95"/>
<circle cx="71.8" cy="31.9" r="3.1" fill="none" stroke="#fff" stroke-opacity="0.95" stroke-width="1.4" stroke-dasharray="1.22 1.215"/>
<circle cx="71.8" cy="31.9" r="0.9" fill="#e2e4e6"/>
<rect x="79.6" y="26.4" width="11.1" height="11" fill="#7f8894" fill-opacity="0.20"/>
<path d="M82.4 29.2 l5.4 5.4 m0 -5.4 l-5.4 5.4" stroke="#fff" stroke-opacity="0.95" stroke-width="1.5" fill="none"/>
<text x="103.0" y="34.8" font-size="9.6" fill="#dedede" text-anchor="start" textLength="13.0" lengthAdjust="spacingAndGlyphs">n/a</text>
<text x="124.0" y="34.8" font-size="9.6" fill="#dedede" text-anchor="start" textLength="13.0" lengthAdjust="spacingAndGlyphs">n/a</text>
<text x="4.0" y="50.2" font-size="9.6" fill="#dadada" text-anchor="start" textLength="105.0" lengthAdjust="spacingAndGlyphs">Env (200, 10, close, false)</text>
<path d="M112.8 46.2 h6 l-3 3z" fill="#b0b0b0"/>
<rect x="126.9" y="41.8" width="11.1" height="11" fill="#3b7dd8" fill-opacity="0.93"/>
<path d="M128.3 47.4 q4.2 -5.6 8.4 0 q-4.2 5.6 -8.4 0z" fill="#fff"/>
<circle cx="132.5" cy="47.4" r="1.95" fill="#3b7dd8"/>
<circle cx="132.5" cy="47.4" r="0.8" fill="#fff"/>
<rect x="140.2" y="41.8" width="11.1" height="11" fill="#7f8894" fill-opacity="0.20"/>
<circle cx="145.8" cy="47.3" r="2.5" fill="#fff" fill-opacity="0.95"/>
<circle cx="145.8" cy="47.3" r="3.1" fill="none" stroke="#fff" stroke-opacity="0.95" stroke-width="1.4" stroke-dasharray="1.22 1.215"/>
<circle cx="145.8" cy="47.3" r="0.9" fill="#e2e4e6"/>
<rect x="153.5" y="41.8" width="11.1" height="11" fill="#7f8894" fill-opacity="0.20"/>
<path d="M156.3 44.6 l5.4 5.4 m0 -5.4 l-5.4 5.4" stroke="#fff" stroke-opacity="0.95" stroke-width="1.5" fill="none"/>
<text x="177.6" y="50.2" font-size="9.6" fill="#dedede" text-anchor="start" textLength="34.4" lengthAdjust="spacingAndGlyphs">85.1389</text>
<text x="220.8" y="50.2" font-size="9.6" fill="#dedede" text-anchor="start" textLength="33.7" lengthAdjust="spacingAndGlyphs">93.6528</text>
<text x="263.0" y="50.2" font-size="9.6" fill="#dedede" text-anchor="start" textLength="34.0" lengthAdjust="spacingAndGlyphs">76.6250</text>
<text x="4.0" y="65.6" font-size="9.6" fill="#dadada" text-anchor="start" textLength="69.0" lengthAdjust="spacingAndGlyphs">MA (1000, close)</text>
<path d="M77.5 61.6 h6 l-3 3z" fill="#b0b0b0"/>
<rect x="91.3" y="57.2" width="11.1" height="11" fill="#3b7dd8" fill-opacity="0.93"/>
<path d="M92.6 62.8 q4.2 -5.6 8.4 0 q-4.2 5.6 -8.4 0z" fill="#fff"/>
<circle cx="96.8" cy="62.8" r="1.95" fill="#3b7dd8"/>
<circle cx="96.8" cy="62.8" r="0.8" fill="#fff"/>
<rect x="104.6" y="57.2" width="11.1" height="11" fill="#7f8894" fill-opacity="0.20"/>
<circle cx="110.1" cy="62.7" r="2.5" fill="#fff" fill-opacity="0.95"/>
<circle cx="110.1" cy="62.7" r="3.1" fill="none" stroke="#fff" stroke-opacity="0.95" stroke-width="1.4" stroke-dasharray="1.22 1.215"/>
<circle cx="110.1" cy="62.7" r="0.9" fill="#e2e4e6"/>
<rect x="117.9" y="57.2" width="11.1" height="11" fill="#7f8894" fill-opacity="0.20"/>
<path d="M120.8 60.0 l5.4 5.4 m0 -5.4 l-5.4 5.4" stroke="#fff" stroke-opacity="0.95" stroke-width="1.5" fill="none"/>
<text x="142.0" y="65.6" font-size="9.6" fill="#dedede" text-anchor="start" textLength="33.8" lengthAdjust="spacingAndGlyphs">81.4541</text>
<text x="4.0" y="81.1" font-size="9.6" fill="#dadada" text-anchor="start" textLength="64.0" lengthAdjust="spacingAndGlyphs">MA (600, close)</text>
<path d="M72.0 77.1 h6 l-3 3z" fill="#b0b0b0"/>
<rect x="86.0" y="72.7" width="11.1" height="11" fill="#3b7dd8" fill-opacity="0.93"/>
<path d="M87.3 78.3 q4.2 -5.6 8.4 0 q-4.2 5.6 -8.4 0z" fill="#fff"/>
<circle cx="91.5" cy="78.3" r="1.95" fill="#3b7dd8"/>
<circle cx="91.5" cy="78.3" r="0.8" fill="#fff"/>
<rect x="99.3" y="72.7" width="11.1" height="11" fill="#7f8894" fill-opacity="0.20"/>
<circle cx="104.8" cy="78.2" r="2.5" fill="#fff" fill-opacity="0.95"/>
<circle cx="104.8" cy="78.2" r="3.1" fill="none" stroke="#fff" stroke-opacity="0.95" stroke-width="1.4" stroke-dasharray="1.22 1.215"/>
<circle cx="104.8" cy="78.2" r="0.9" fill="#e2e4e6"/>
<rect x="112.6" y="72.7" width="11.1" height="11" fill="#7f8894" fill-opacity="0.20"/>
<path d="M115.4 75.5 l5.4 5.4 m0 -5.4 l-5.4 5.4" stroke="#fff" stroke-opacity="0.95" stroke-width="1.5" fill="none"/>
<text x="136.8" y="81.1" font-size="9.6" fill="#dedede" text-anchor="start" textLength="34.2" lengthAdjust="spacingAndGlyphs">85.5556</text>
<text x="4.0" y="96.5" font-size="9.6" fill="#dadada" text-anchor="start" textLength="59.0" lengthAdjust="spacingAndGlyphs">MA (50, close)</text>
<path d="M66.5 92.5 h6 l-3 3z" fill="#b0b0b0"/>
<rect x="80.8" y="88.1" width="11.1" height="11" fill="#3b7dd8" fill-opacity="0.93"/>
<path d="M82.1 93.7 q4.2 -5.6 8.4 0 q-4.2 5.6 -8.4 0z" fill="#fff"/>
<circle cx="86.3" cy="93.7" r="1.95" fill="#3b7dd8"/>
<circle cx="86.3" cy="93.7" r="0.8" fill="#fff"/>
<rect x="94.1" y="88.1" width="11.1" height="11" fill="#7f8894" fill-opacity="0.20"/>
<circle cx="99.6" cy="93.6" r="2.5" fill="#fff" fill-opacity="0.95"/>
<circle cx="99.6" cy="93.6" r="3.1" fill="none" stroke="#fff" stroke-opacity="0.95" stroke-width="1.4" stroke-dasharray="1.22 1.215"/>
<circle cx="99.6" cy="93.6" r="0.9" fill="#e2e4e6"/>
<rect x="107.4" y="88.1" width="11.1" height="11" fill="#7f8894" fill-opacity="0.20"/>
<path d="M110.2 90.9 l5.4 5.4 m0 -5.4 l-5.4 5.4" stroke="#fff" stroke-opacity="0.95" stroke-width="1.5" fill="none"/>
<text x="131.7" y="96.5" font-size="9.6" fill="#dedede" text-anchor="start" textLength="33.9" lengthAdjust="spacingAndGlyphs">85.3410</text>
<text x="4.0" y="112.0" font-size="9.6" fill="#dadada" text-anchor="start" textLength="59.0" lengthAdjust="spacingAndGlyphs">MA (20, close)</text>
<path d="M66.5 108.0 h6 l-3 3z" fill="#b0b0b0"/>
<rect x="80.8" y="103.6" width="11.1" height="11" fill="#3b7dd8" fill-opacity="0.93"/>
<path d="M82.1 109.2 q4.2 -5.6 8.4 0 q-4.2 5.6 -8.4 0z" fill="#fff"/>
<circle cx="86.3" cy="109.2" r="1.95" fill="#3b7dd8"/>
<circle cx="86.3" cy="109.2" r="0.8" fill="#fff"/>
<rect x="94.1" y="103.6" width="11.1" height="11" fill="#7f8894" fill-opacity="0.20"/>
<circle cx="99.6" cy="109.1" r="2.5" fill="#fff" fill-opacity="0.95"/>
<circle cx="99.6" cy="109.1" r="3.1" fill="none" stroke="#fff" stroke-opacity="0.95" stroke-width="1.4" stroke-dasharray="1.22 1.215"/>
<circle cx="99.6" cy="109.1" r="0.9" fill="#e2e4e6"/>
<rect x="107.4" y="103.6" width="11.1" height="11" fill="#7f8894" fill-opacity="0.20"/>
<path d="M110.2 106.4 l5.4 5.4 m0 -5.4 l-5.4 5.4" stroke="#fff" stroke-opacity="0.95" stroke-width="1.5" fill="none"/>
<text x="131.7" y="112.0" font-size="9.6" fill="#dedede" text-anchor="start" textLength="33.9" lengthAdjust="spacingAndGlyphs">85.4805</text>
<text x="4.0" y="127.4" font-size="9.6" fill="#dadada" text-anchor="start" textLength="13.0" lengthAdjust="spacingAndGlyphs">MF</text>
<path d="M22.0 123.4 h6 l-3 3z" fill="#b0b0b0"/>
<rect x="36.0" y="119.0" width="11.1" height="11" fill="#3b7dd8" fill-opacity="0.93"/>
<path d="M37.3 124.6 q4.2 -5.6 8.4 0 q-4.2 5.6 -8.4 0z" fill="#fff"/>
<circle cx="41.5" cy="124.6" r="1.95" fill="#3b7dd8"/>
<circle cx="41.5" cy="124.6" r="0.8" fill="#fff"/>
<rect x="49.3" y="119.0" width="11.1" height="11" fill="#7f8894" fill-opacity="0.20"/>
<circle cx="54.8" cy="124.5" r="2.5" fill="#fff" fill-opacity="0.95"/>
<circle cx="54.8" cy="124.5" r="3.1" fill="none" stroke="#fff" stroke-opacity="0.95" stroke-width="1.4" stroke-dasharray="1.22 1.215"/>
<circle cx="54.8" cy="124.5" r="0.9" fill="#e2e4e6"/>
<rect x="62.6" y="119.0" width="11.1" height="11" fill="#7f8894" fill-opacity="0.20"/>
<path d="M65.5 121.8 l5.4 5.4 m0 -5.4 l-5.4 5.4" stroke="#fff" stroke-opacity="0.95" stroke-width="1.5" fill="none"/>
<text x="4.0" y="142.9" font-size="9.6" fill="#dadada" text-anchor="start" textLength="100.0" lengthAdjust="spacingAndGlyphs">Env (20, 10, close, false)</text>
<path d="M108.0 138.9 h6 l-3 3z" fill="#b0b0b0"/>
<rect x="122.0" y="134.5" width="11.1" height="11" fill="#3b7dd8" fill-opacity="0.93"/>
<path d="M123.3 140.1 q4.2 -5.6 8.4 0 q-4.2 5.6 -8.4 0z" fill="#fff"/>
<circle cx="127.5" cy="140.1" r="1.95" fill="#3b7dd8"/>
<circle cx="127.5" cy="140.1" r="0.8" fill="#fff"/>
<rect x="135.3" y="134.5" width="11.1" height="11" fill="#7f8894" fill-opacity="0.20"/>
<circle cx="140.9" cy="140.0" r="2.5" fill="#fff" fill-opacity="0.95"/>
<circle cx="140.9" cy="140.0" r="3.1" fill="none" stroke="#fff" stroke-opacity="0.95" stroke-width="1.4" stroke-dasharray="1.22 1.215"/>
<circle cx="140.9" cy="140.0" r="0.9" fill="#e2e4e6"/>
<rect x="148.6" y="134.5" width="11.1" height="11" fill="#7f8894" fill-opacity="0.20"/>
<path d="M151.4 137.3 l5.4 5.4 m0 -5.4 l-5.4 5.4" stroke="#fff" stroke-opacity="0.95" stroke-width="1.5" fill="none"/>
<text x="172.0" y="142.9" font-size="9.6" fill="#dedede" text-anchor="start" textLength="34.5" lengthAdjust="spacingAndGlyphs">85.7680</text>
<text x="215.0" y="142.9" font-size="9.6" fill="#dedede" text-anchor="start" textLength="34.5" lengthAdjust="spacingAndGlyphs">94.3448</text>
<text x="258.0" y="142.9" font-size="9.6" fill="#dedede" text-anchor="start" textLength="34.5" lengthAdjust="spacingAndGlyphs">77.1912</text>
<text x="4.0" y="158.3" font-size="9.6" fill="#dadada" text-anchor="start" textLength="68.0" lengthAdjust="spacingAndGlyphs">BB (50, close, 3)</text>
<path d="M76.0 154.3 h6 l-3 3z" fill="#b0b0b0"/>
<rect x="89.3" y="149.9" width="11.1" height="11" fill="#3b7dd8" fill-opacity="0.93"/>
<path d="M90.6 155.5 q4.2 -5.6 8.4 0 q-4.2 5.6 -8.4 0z" fill="#fff"/>
<circle cx="94.8" cy="155.5" r="1.95" fill="#3b7dd8"/>
<circle cx="94.8" cy="155.5" r="0.8" fill="#fff"/>
<rect x="102.6" y="149.9" width="11.1" height="11" fill="#7f8894" fill-opacity="0.20"/>
<circle cx="108.1" cy="155.4" r="2.5" fill="#fff" fill-opacity="0.95"/>
<circle cx="108.1" cy="155.4" r="3.1" fill="none" stroke="#fff" stroke-opacity="0.95" stroke-width="1.4" stroke-dasharray="1.22 1.215"/>
<circle cx="108.1" cy="155.4" r="0.9" fill="#e2e4e6"/>
<rect x="115.9" y="149.9" width="11.1" height="11" fill="#7f8894" fill-opacity="0.20"/>
<path d="M118.8 152.7 l5.4 5.4 m0 -5.4 l-5.4 5.4" stroke="#fff" stroke-opacity="0.95" stroke-width="1.5" fill="none"/>
<text x="139.5" y="158.3" font-size="9.6" fill="#dedede" text-anchor="start" textLength="34.5" lengthAdjust="spacingAndGlyphs">85.3410</text>
<text x="182.5" y="158.3" font-size="9.6" fill="#dedede" text-anchor="start" textLength="34.5" lengthAdjust="spacingAndGlyphs">86.1232</text>
<text x="225.5" y="158.3" font-size="9.6" fill="#dedede" text-anchor="start" textLength="34.5" lengthAdjust="spacingAndGlyphs">84.2988</text>
<text x="4.0" y="173.8" font-size="9.6" fill="#dadada" text-anchor="start" textLength="68.0" lengthAdjust="spacingAndGlyphs">BB (20, close, 2)</text>
<path d="M76.0 169.8 h6 l-3 3z" fill="#b0b0b0"/>
<rect x="89.3" y="165.4" width="11.1" height="11" fill="#3b7dd8" fill-opacity="0.93"/>
<path d="M90.6 171.0 q4.2 -5.6 8.4 0 q-4.2 5.6 -8.4 0z" fill="#fff"/>
<circle cx="94.8" cy="171.0" r="1.95" fill="#3b7dd8"/>
<circle cx="94.8" cy="171.0" r="0.8" fill="#fff"/>
<rect x="102.6" y="165.4" width="11.1" height="11" fill="#7f8894" fill-opacity="0.20"/>
<circle cx="108.1" cy="170.9" r="2.5" fill="#fff" fill-opacity="0.95"/>
<circle cx="108.1" cy="170.9" r="3.1" fill="none" stroke="#fff" stroke-opacity="0.95" stroke-width="1.4" stroke-dasharray="1.22 1.215"/>
<circle cx="108.1" cy="170.9" r="0.9" fill="#e2e4e6"/>
<rect x="115.9" y="165.4" width="11.1" height="11" fill="#7f8894" fill-opacity="0.20"/>
<path d="M118.8 168.2 l5.4 5.4 m0 -5.4 l-5.4 5.4" stroke="#fff" stroke-opacity="0.95" stroke-width="1.5" fill="none"/>
<text x="139.5" y="173.8" font-size="9.6" fill="#dedede" text-anchor="start" textLength="34.5" lengthAdjust="spacingAndGlyphs">85.4805</text>
<text x="182.5" y="173.8" font-size="9.6" fill="#dedede" text-anchor="start" textLength="34.5" lengthAdjust="spacingAndGlyphs">86.5686</text>
<text x="225.5" y="173.8" font-size="9.6" fill="#dedede" text-anchor="start" textLength="34.5" lengthAdjust="spacingAndGlyphs">84.4924</text>
<text x="4.0" y="189.2" font-size="9.6" fill="#dadada" text-anchor="start" textLength="56.0" lengthAdjust="spacingAndGlyphs">BTCUSD, BTCE</text>
<path d="M65.0 185.2 h6 l-3 3z" fill="#b0b0b0"/>
<rect x="80.3" y="180.8" width="11.1" height="11" fill="#3b7dd8" fill-opacity="0.93"/>
<path d="M81.6 186.4 q4.2 -5.6 8.4 0 q-4.2 5.6 -8.4 0z" fill="#fff"/>
<circle cx="85.8" cy="186.4" r="1.95" fill="#3b7dd8"/>
<circle cx="85.8" cy="186.4" r="0.8" fill="#fff"/>
<rect x="93.6" y="180.8" width="11.1" height="11" fill="#7f8894" fill-opacity="0.20"/>
<circle cx="99.1" cy="186.3" r="2.5" fill="#fff" fill-opacity="0.95"/>
<circle cx="99.1" cy="186.3" r="3.1" fill="none" stroke="#fff" stroke-opacity="0.95" stroke-width="1.4" stroke-dasharray="1.22 1.215"/>
<circle cx="99.1" cy="186.3" r="0.9" fill="#e2e4e6"/>
<rect x="106.9" y="180.8" width="11.1" height="11" fill="#7f8894" fill-opacity="0.20"/>
<path d="M109.8 183.6 l5.4 5.4 m0 -5.4 l-5.4 5.4" stroke="#fff" stroke-opacity="0.95" stroke-width="1.5" fill="none"/>
<text x="131.5" y="189.2" font-size="9.6" fill="#dedede" text-anchor="start" textLength="29.0" lengthAdjust="spacingAndGlyphs">354.17</text>
<text x="168.0" y="189.2" font-size="9.6" fill="#dedede" text-anchor="start" textLength="29.0" lengthAdjust="spacingAndGlyphs">357.49</text>
<text x="205.5" y="189.2" font-size="9.6" fill="#dedede" text-anchor="start" textLength="29.0" lengthAdjust="spacingAndGlyphs">349.00</text>
<text x="243.0" y="189.2" font-size="9.6" fill="#dedede" text-anchor="start" textLength="29.0" lengthAdjust="spacingAndGlyphs">351.28</text>
<text x="4.0" y="204.7" font-size="9.6" fill="#dadada" text-anchor="start" textLength="82.0" lengthAdjust="spacingAndGlyphs">BTCCNY, BTCCHINA</text>
<path d="M89.5 200.7 h6 l-3 3z" fill="#b0b0b0"/>
<rect x="103.0" y="196.3" width="11.1" height="11" fill="#3b7dd8" fill-opacity="0.93"/>
<path d="M104.3 201.9 q4.2 -5.6 8.4 0 q-4.2 5.6 -8.4 0z" fill="#fff"/>
<circle cx="108.5" cy="201.9" r="1.95" fill="#3b7dd8"/>
<circle cx="108.5" cy="201.9" r="0.8" fill="#fff"/>
<rect x="116.3" y="196.3" width="11.1" height="11" fill="#7f8894" fill-opacity="0.20"/>
<circle cx="121.8" cy="201.8" r="2.5" fill="#fff" fill-opacity="0.95"/>
<circle cx="121.8" cy="201.8" r="3.1" fill="none" stroke="#fff" stroke-opacity="0.95" stroke-width="1.4" stroke-dasharray="1.22 1.215"/>
<circle cx="121.8" cy="201.8" r="0.9" fill="#e2e4e6"/>
<rect x="129.6" y="196.3" width="11.1" height="11" fill="#7f8894" fill-opacity="0.20"/>
<path d="M132.4 199.1 l5.4 5.4 m0 -5.4 l-5.4 5.4" stroke="#fff" stroke-opacity="0.95" stroke-width="1.5" fill="none"/>
<text x="153.5" y="204.7" font-size="9.6" fill="#dedede" text-anchor="start" textLength="35.0" lengthAdjust="spacingAndGlyphs">2189.66</text>
<text x="196.5" y="204.7" font-size="9.6" fill="#dedede" text-anchor="start" textLength="35.0" lengthAdjust="spacingAndGlyphs">2198.98</text>
<text x="239.0" y="204.7" font-size="9.6" fill="#dedede" text-anchor="start" textLength="35.0" lengthAdjust="spacingAndGlyphs">2149.41</text>
<text x="281.5" y="204.7" font-size="9.6" fill="#dedede" text-anchor="start" textLength="35.0" lengthAdjust="spacingAndGlyphs">2171.85</text>
<defs><linearGradient id="fade" x1="0" x2="1" y1="0" y2="0"><stop offset="0" stop-color="#fff" stop-opacity="0.92"/><stop offset="0.74" stop-color="#fff" stop-opacity="0.92"/><stop offset="0.78" stop-color="#fff" stop-opacity="0.5"/><stop offset="0.81" stop-color="#fff" stop-opacity="0"/><stop offset="1" stop-color="#fff" stop-opacity="0"/></linearGradient></defs>
<rect x="0" y="24" width="100" height="188" fill="url(#fade)"/>
<text x="4.0" y="220.7" font-size="9.6" fill="#c9822f" text-anchor="start" textLength="64" lengthAdjust="spacingAndGlyphs">MA (200, close)</text>
<path d="M71.5 216.2 h6 l-3 3z" fill="#c2c2c2"/>
<rect x="86.0" y="211.8" width="11.1" height="11" fill="#7f8894" fill-opacity="0.20"/>
<path d="M87.3 217.4 q4.2 -5.6 8.4 0 q-4.2 5.6 -8.4 0z" fill="#fff" fill-opacity="0.95"/>
<circle cx="91.5" cy="217.4" r="1.95" fill="#e2e4e6"/>
<circle cx="91.5" cy="217.4" r="0.8" fill="#fff"/>
<rect x="99.3" y="211.8" width="11.1" height="11" fill="#7f8894" fill-opacity="0.20"/>
<circle cx="104.8" cy="217.3" r="2.5" fill="#fff" fill-opacity="0.95"/>
<circle cx="104.8" cy="217.3" r="3.1" fill="none" stroke="#fff" stroke-opacity="0.95" stroke-width="1.4" stroke-dasharray="1.22 1.215"/>
<circle cx="104.8" cy="217.3" r="0.9" fill="#e2e4e6"/>
<rect x="112.6" y="211.8" width="11.1" height="11" fill="#7f8894" fill-opacity="0.20"/>
<path d="M115.4 214.6 l5.4 5.4 m0 -5.4 l-5.4 5.4" stroke="#fff" stroke-opacity="0.95" stroke-width="1.5" fill="none"/>
<text x="136.5" y="220.8" font-size="9.6" fill="#ff2a2a" text-anchor="start" textLength="34.5" lengthAdjust="spacingAndGlyphs">85.1389</text>
<text x="3.5" y="372.9" font-size="9.6" fill="#c8853c" text-anchor="start" textLength="161" lengthAdjust="spacingAndGlyphs">mMACD BB (5, 12, 5, 55, 26, 2, 1.6, 48)</text>
<path d="M168.5 368.4 h6 l-3 3z" fill="#c6c6c6"/>
<rect x="183.0" y="364.1" width="11.1" height="11" fill="#7f8894" fill-opacity="0.20"/>
<path d="M184.4 369.7 q4.2 -5.6 8.4 0 q-4.2 5.6 -8.4 0z" fill="#fff" fill-opacity="0.95"/>
<circle cx="188.6" cy="369.7" r="1.95" fill="#e2e4e6"/>
<circle cx="188.6" cy="369.7" r="0.8" fill="#fff"/>
<rect x="196.0" y="364.1" width="11.1" height="11" fill="#7f8894" fill-opacity="0.20"/>
<circle cx="201.6" cy="369.6" r="2.5" fill="#fff" fill-opacity="0.95"/>
<circle cx="201.6" cy="369.6" r="3.1" fill="none" stroke="#fff" stroke-opacity="0.95" stroke-width="1.4" stroke-dasharray="1.22 1.215"/>
<circle cx="201.6" cy="369.6" r="0.9" fill="#e2e4e6"/>
<rect x="209.0" y="364.1" width="11.1" height="11" fill="#7f8894" fill-opacity="0.20"/>
<rect x="222.0" y="364.1" width="11.1" height="11" fill="#7f8894" fill-opacity="0.20"/>
<path d="M224.8 366.9 l5.4 5.4 m0 -5.4 l-5.4 5.4" stroke="#fff" stroke-opacity="0.95" stroke-width="1.5" fill="none"/>
<text x="247.5" y="373.0" font-size="9.6" fill="#ff3030" text-anchor="start" textLength="13.0" lengthAdjust="spacingAndGlyphs">n/a</text>
<text x="268.0" y="373.0" font-size="9.6" fill="#4caf50" text-anchor="start" textLength="13.0" lengthAdjust="spacingAndGlyphs">n/a</text>
<text x="289.0" y="373.0" font-size="9.6" fill="#2a7ff0" text-anchor="start" textLength="28.0" lengthAdjust="spacingAndGlyphs">0.2303</text>
<text x="326.0" y="373.0" font-size="9.6" fill="#2a7ff0" text-anchor="start" textLength="31.5" lengthAdjust="spacingAndGlyphs">-0.2277</text>
<text x="367.0" y="373.0" font-size="9.6" fill="#d4d4d4" text-anchor="start" textLength="28.0" lengthAdjust="spacingAndGlyphs">0.2005</text>
<text x="405.0" y="373.0" font-size="9.6" fill="#dcdcdc" text-anchor="start" textLength="31.5" lengthAdjust="spacingAndGlyphs">-0.0508</text>
<text x="443.5" y="373.0" font-size="9.6" fill="#ffc58a" text-anchor="start" textLength="28.0" lengthAdjust="spacingAndGlyphs">0.1115</text>
<text x="481.0" y="373.0" font-size="9.6" fill="#a0522d" text-anchor="start" textLength="28.0" lengthAdjust="spacingAndGlyphs">0.1319</text>
<text x="3.5" y="453.5" font-size="9.6" fill="#c8853c" text-anchor="start" textLength="155" lengthAdjust="spacingAndGlyphs">mRSI (70, 30, 9, 55, 26, 2, 1.6, 12, 48)</text>
<path d="M161.0 449.0 h6 l-3 3z" fill="#c6c6c6"/>
<rect x="176.0" y="444.7" width="11.1" height="11" fill="#7f8894" fill-opacity="0.20"/>
<path d="M177.4 450.3 q4.2 -5.6 8.4 0 q-4.2 5.6 -8.4 0z" fill="#fff" fill-opacity="0.95"/>
<circle cx="181.6" cy="450.3" r="1.95" fill="#e2e4e6"/>
<circle cx="181.6" cy="450.3" r="0.8" fill="#fff"/>
<rect x="189.3" y="444.7" width="11.1" height="11" fill="#7f8894" fill-opacity="0.20"/>
<circle cx="194.9" cy="450.2" r="2.5" fill="#fff" fill-opacity="0.95"/>
<circle cx="194.9" cy="450.2" r="3.1" fill="none" stroke="#fff" stroke-opacity="0.95" stroke-width="1.4" stroke-dasharray="1.22 1.215"/>
<circle cx="194.9" cy="450.2" r="0.9" fill="#e2e4e6"/>
<rect x="202.6" y="444.7" width="11.1" height="11" fill="#7f8894" fill-opacity="0.20"/>
<rect x="215.9" y="444.7" width="11.1" height="11" fill="#7f8894" fill-opacity="0.20"/>
<path d="M218.8 447.5 l5.4 5.4 m0 -5.4 l-5.4 5.4" stroke="#fff" stroke-opacity="0.95" stroke-width="1.5" fill="none"/>
<text x="240.0" y="453.6" font-size="9.6" fill="#2222ee" text-anchor="start" textLength="13.0" lengthAdjust="spacingAndGlyphs">n/a</text>
<text x="261.0" y="453.6" font-size="9.6" fill="#d08a4a" text-anchor="start" textLength="13.0" lengthAdjust="spacingAndGlyphs">n/a</text>
<text x="282.0" y="453.6" font-size="9.6" fill="#ff9a3a" text-anchor="start" textLength="13.0" lengthAdjust="spacingAndGlyphs">n/a</text>
<text x="303.0" y="453.6" font-size="9.6" fill="#ff2a2a" text-anchor="start" textLength="13.0" lengthAdjust="spacingAndGlyphs">n/a</text>
<text x="324.0" y="453.6" font-size="9.6" fill="#a5dcfa" text-anchor="start" textLength="24.0" lengthAdjust="spacingAndGlyphs">79.27</text>
<text x="355.5" y="453.6" font-size="9.6" fill="#a5dcfa" text-anchor="start" textLength="24.0" lengthAdjust="spacingAndGlyphs">24.23</text>
<text x="387.0" y="453.6" font-size="9.6" fill="#b9e3fa" text-anchor="start" textLength="24.0" lengthAdjust="spacingAndGlyphs">79.48</text>
<text x="418.5" y="453.6" font-size="9.6" fill="#c4e6fa" text-anchor="start" textLength="24.0" lengthAdjust="spacingAndGlyphs">39.66</text>
<text x="450.0" y="453.6" font-size="9.6" fill="#222" text-anchor="start" textLength="24.0" lengthAdjust="spacingAndGlyphs">68.26</text>
</svg>
</body></html>
